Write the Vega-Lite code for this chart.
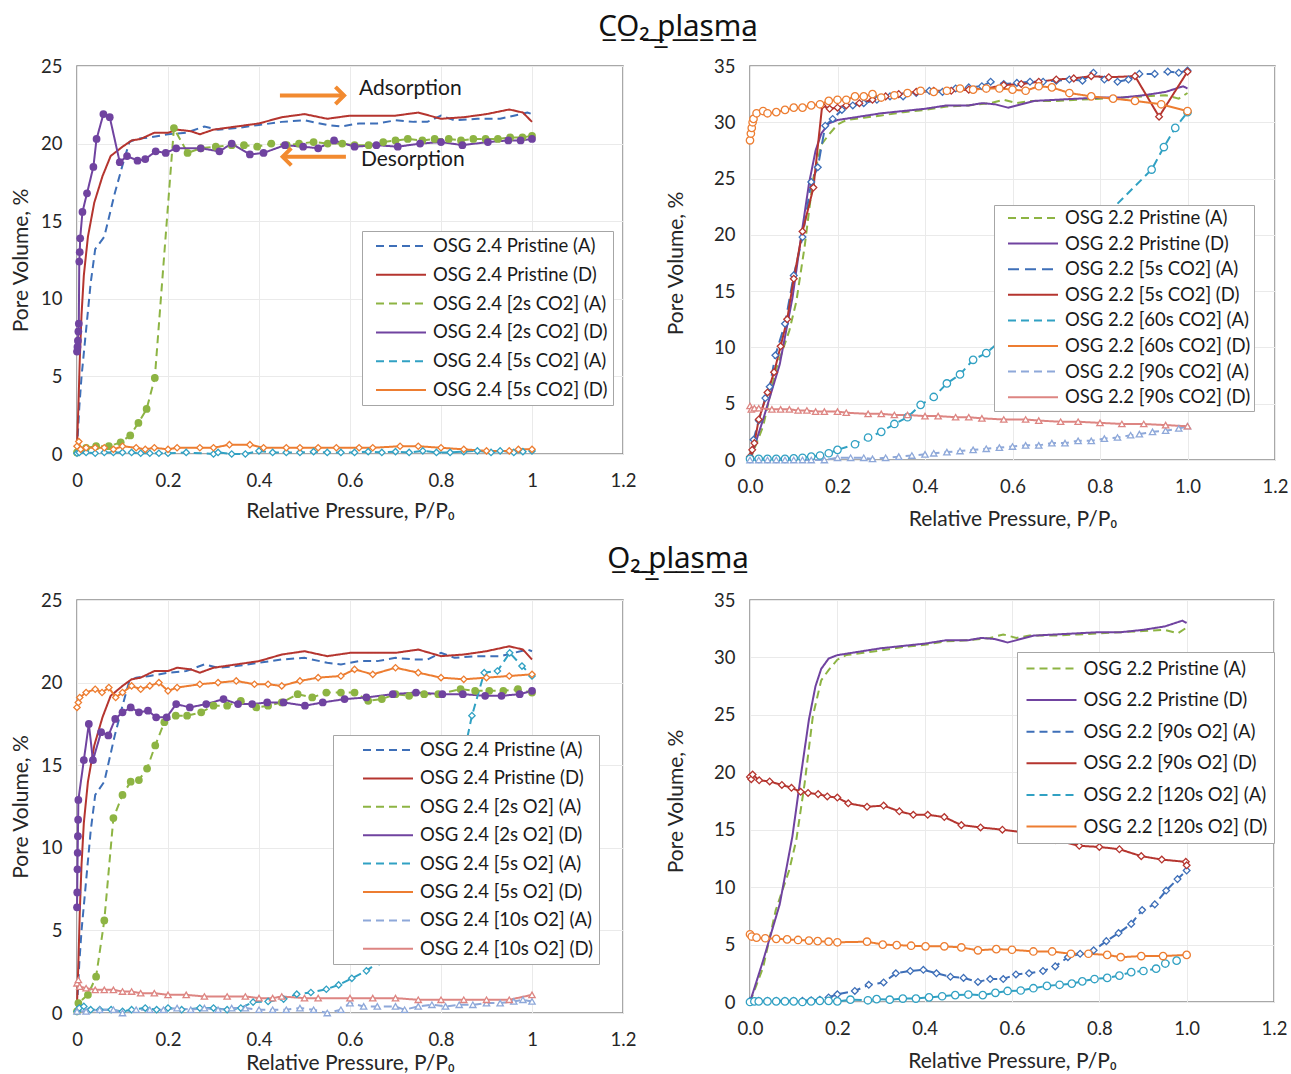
{
"$schema": "https://vega.github.io/schema/vega-lite/v6.json",
"background": "white",
"padding": {"left": 9, "top": 10, "right": 5, "bottom": 2},
"config": {
 "font": "Lato",
 "view": {"stroke": "#8C8C8C", "strokeWidth": 1.5},
 "axis": {"domain": false, "ticks": false, "grid": true, "gridColor": "#EAEAEA", "gridWidth": 1, "labelFlush": false, "labelFont": "Lato", "labelFontSize": 18.5, "labelColor": "#262626", "titleFont": "Lato", "titleFontSize": 21, "titleFontWeight": "normal", "titleColor": "#262626"},
 "axisX": {"labelPadding": 17},
 "axisY": {"labelPadding": 15},
 "legend": {"orient": "none", "symbolSize": 2500, "symbolStrokeWidth": 2, "labelFont": "Lato", "labelFontSize": 18.5, "labelColor": "#1a1a1a", "fillColor": "white", "strokeColor": "#A6A6A6", "padding": 5, "clipHeight": 20, "labelOffset": 6, "labelLimit": 400, "symbolOffset": 0}
},
"datasets": {
"p24": [
{"s":"OSG 2.4 Pristine (A)","x":0,"y":0.3},{"s":"OSG 2.4 Pristine (A)","x":0.005,"y":3},{"s":"OSG 2.4 Pristine (A)","x":0.01,"y":5},{"s":"OSG 2.4 Pristine (A)","x":0.02,"y":8},{"s":"OSG 2.4 Pristine (A)","x":0.03,"y":11},{"s":"OSG 2.4 Pristine (A)","x":0.04,"y":13.2},{"s":"OSG 2.4 Pristine (A)","x":0.06,"y":14.0},{"s":"OSG 2.4 Pristine (A)","x":0.083,"y":16.8},{"s":"OSG 2.4 Pristine (A)","x":0.1,"y":18.6},{"s":"OSG 2.4 Pristine (A)","x":0.115,"y":20.1},{"s":"OSG 2.4 Pristine (A)","x":0.13,"y":20.3},{"s":"OSG 2.4 Pristine (A)","x":0.16,"y":20.4},{"s":"OSG 2.4 Pristine (A)","x":0.2,"y":20.6},{"s":"OSG 2.4 Pristine (A)","x":0.24,"y":20.7},{"s":"OSG 2.4 Pristine (A)","x":0.28,"y":21.1},{"s":"OSG 2.4 Pristine (A)","x":0.31,"y":20.9},{"s":"OSG 2.4 Pristine (A)","x":0.35,"y":21.0},{"s":"OSG 2.4 Pristine (A)","x":0.4,"y":21.2},{"s":"OSG 2.4 Pristine (A)","x":0.45,"y":21.4},{"s":"OSG 2.4 Pristine (A)","x":0.5,"y":21.5},{"s":"OSG 2.4 Pristine (A)","x":0.55,"y":21.2},{"s":"OSG 2.4 Pristine (A)","x":0.58,"y":21.1},{"s":"OSG 2.4 Pristine (A)","x":0.62,"y":21.3},{"s":"OSG 2.4 Pristine (A)","x":0.66,"y":21.3},{"s":"OSG 2.4 Pristine (A)","x":0.7,"y":21.5},{"s":"OSG 2.4 Pristine (A)","x":0.74,"y":21.4},{"s":"OSG 2.4 Pristine (A)","x":0.77,"y":21.4},{"s":"OSG 2.4 Pristine (A)","x":0.8,"y":21.8},{"s":"OSG 2.4 Pristine (A)","x":0.83,"y":21.5},{"s":"OSG 2.4 Pristine (A)","x":0.88,"y":21.6},{"s":"OSG 2.4 Pristine (A)","x":0.93,"y":21.6},{"s":"OSG 2.4 Pristine (A)","x":0.96,"y":21.8},{"s":"OSG 2.4 Pristine (A)","x":0.99,"y":22.0},{"s":"OSG 2.4 Pristine (A)","x":1.0,"y":21.9},
{"s":"OSG 2.4 Pristine (D)","x":0,"y":0.5},{"s":"OSG 2.4 Pristine (D)","x":0.003,"y":3},{"s":"OSG 2.4 Pristine (D)","x":0.006,"y":6},{"s":"OSG 2.4 Pristine (D)","x":0.01,"y":9},{"s":"OSG 2.4 Pristine (D)","x":0.015,"y":11.5},{"s":"OSG 2.4 Pristine (D)","x":0.024,"y":14},{"s":"OSG 2.4 Pristine (D)","x":0.038,"y":16.2},{"s":"OSG 2.4 Pristine (D)","x":0.056,"y":17.9},{"s":"OSG 2.4 Pristine (D)","x":0.074,"y":19.2},{"s":"OSG 2.4 Pristine (D)","x":0.1,"y":19.8},{"s":"OSG 2.4 Pristine (D)","x":0.12,"y":20.2},{"s":"OSG 2.4 Pristine (D)","x":0.14,"y":20.3},{"s":"OSG 2.4 Pristine (D)","x":0.17,"y":20.7},{"s":"OSG 2.4 Pristine (D)","x":0.2,"y":20.7},{"s":"OSG 2.4 Pristine (D)","x":0.22,"y":20.9},{"s":"OSG 2.4 Pristine (D)","x":0.25,"y":20.8},{"s":"OSG 2.4 Pristine (D)","x":0.27,"y":20.6},{"s":"OSG 2.4 Pristine (D)","x":0.3,"y":20.9},{"s":"OSG 2.4 Pristine (D)","x":0.35,"y":21.1},{"s":"OSG 2.4 Pristine (D)","x":0.4,"y":21.3},{"s":"OSG 2.4 Pristine (D)","x":0.45,"y":21.7},{"s":"OSG 2.4 Pristine (D)","x":0.5,"y":21.9},{"s":"OSG 2.4 Pristine (D)","x":0.55,"y":21.6},{"s":"OSG 2.4 Pristine (D)","x":0.6,"y":21.8},{"s":"OSG 2.4 Pristine (D)","x":0.65,"y":21.8},{"s":"OSG 2.4 Pristine (D)","x":0.7,"y":21.8},{"s":"OSG 2.4 Pristine (D)","x":0.75,"y":22.0},{"s":"OSG 2.4 Pristine (D)","x":0.8,"y":21.6},{"s":"OSG 2.4 Pristine (D)","x":0.85,"y":21.7},{"s":"OSG 2.4 Pristine (D)","x":0.9,"y":21.9},{"s":"OSG 2.4 Pristine (D)","x":0.95,"y":22.2},{"s":"OSG 2.4 Pristine (D)","x":0.98,"y":22.0},{"s":"OSG 2.4 Pristine (D)","x":1.0,"y":21.4}
],
"p22": [
{"s":"OSG 2.2 Pristine (A)","x":0,"y":0},{"s":"OSG 2.2 Pristine (A)","x":0.03,"y":3},{"s":"OSG 2.2 Pristine (A)","x":0.059,"y":8},{"s":"OSG 2.2 Pristine (A)","x":0.09,"y":11.5},{"s":"OSG 2.2 Pristine (A)","x":0.106,"y":14.1},{"s":"OSG 2.2 Pristine (A)","x":0.125,"y":19},{"s":"OSG 2.2 Pristine (A)","x":0.144,"y":24.9},{"s":"OSG 2.2 Pristine (A)","x":0.163,"y":28.0},{"s":"OSG 2.2 Pristine (A)","x":0.18,"y":28.9},{"s":"OSG 2.2 Pristine (A)","x":0.2,"y":29.8},{"s":"OSG 2.2 Pristine (A)","x":0.22,"y":30.2},{"s":"OSG 2.2 Pristine (A)","x":0.26,"y":30.4},{"s":"OSG 2.2 Pristine (A)","x":0.3,"y":30.6},{"s":"OSG 2.2 Pristine (A)","x":0.35,"y":30.9},{"s":"OSG 2.2 Pristine (A)","x":0.4,"y":31.1},{"s":"OSG 2.2 Pristine (A)","x":0.45,"y":31.4},{"s":"OSG 2.2 Pristine (A)","x":0.5,"y":31.5},{"s":"OSG 2.2 Pristine (A)","x":0.55,"y":31.7},{"s":"OSG 2.2 Pristine (A)","x":0.58,"y":32.0},{"s":"OSG 2.2 Pristine (A)","x":0.61,"y":31.7},{"s":"OSG 2.2 Pristine (A)","x":0.64,"y":31.9},{"s":"OSG 2.2 Pristine (A)","x":0.7,"y":31.9},{"s":"OSG 2.2 Pristine (A)","x":0.75,"y":32.0},{"s":"OSG 2.2 Pristine (A)","x":0.8,"y":32.1},{"s":"OSG 2.2 Pristine (A)","x":0.85,"y":32.2},{"s":"OSG 2.2 Pristine (A)","x":0.9,"y":32.3},{"s":"OSG 2.2 Pristine (A)","x":0.95,"y":32.4},{"s":"OSG 2.2 Pristine (A)","x":0.98,"y":32.1},{"s":"OSG 2.2 Pristine (A)","x":1.0,"y":32.6},
{"s":"OSG 2.2 Pristine (D)","x":0,"y":0},{"s":"OSG 2.2 Pristine (D)","x":0.03,"y":3.6},{"s":"OSG 2.2 Pristine (D)","x":0.068,"y":8.5},{"s":"OSG 2.2 Pristine (D)","x":0.097,"y":14.4},{"s":"OSG 2.2 Pristine (D)","x":0.116,"y":19.6},{"s":"OSG 2.2 Pristine (D)","x":0.135,"y":24.6},{"s":"OSG 2.2 Pristine (D)","x":0.15,"y":27.5},{"s":"OSG 2.2 Pristine (D)","x":0.163,"y":29.0},{"s":"OSG 2.2 Pristine (D)","x":0.18,"y":29.9},{"s":"OSG 2.2 Pristine (D)","x":0.2,"y":30.2},{"s":"OSG 2.2 Pristine (D)","x":0.25,"y":30.5},{"s":"OSG 2.2 Pristine (D)","x":0.3,"y":30.8},{"s":"OSG 2.2 Pristine (D)","x":0.35,"y":31.0},{"s":"OSG 2.2 Pristine (D)","x":0.4,"y":31.2},{"s":"OSG 2.2 Pristine (D)","x":0.45,"y":31.5},{"s":"OSG 2.2 Pristine (D)","x":0.5,"y":31.5},{"s":"OSG 2.2 Pristine (D)","x":0.53,"y":31.7},{"s":"OSG 2.2 Pristine (D)","x":0.56,"y":31.6},{"s":"OSG 2.2 Pristine (D)","x":0.59,"y":31.3},{"s":"OSG 2.2 Pristine (D)","x":0.62,"y":31.6},{"s":"OSG 2.2 Pristine (D)","x":0.65,"y":31.9},{"s":"OSG 2.2 Pristine (D)","x":0.7,"y":32.0},{"s":"OSG 2.2 Pristine (D)","x":0.75,"y":32.1},{"s":"OSG 2.2 Pristine (D)","x":0.8,"y":32.2},{"s":"OSG 2.2 Pristine (D)","x":0.85,"y":32.2},{"s":"OSG 2.2 Pristine (D)","x":0.9,"y":32.4},{"s":"OSG 2.2 Pristine (D)","x":0.95,"y":32.7},{"s":"OSG 2.2 Pristine (D)","x":0.99,"y":33.2},{"s":"OSG 2.2 Pristine (D)","x":1.0,"y":33.0}
],
"tl": [
{"s":"OSG 2.4 [2s CO2] (A)","x":0,"y":0.1},{"s":"OSG 2.4 [2s CO2] (A)","x":0.005,"y":0.3},{"s":"OSG 2.4 [2s CO2] (A)","x":0.02,"y":0.4},{"s":"OSG 2.4 [2s CO2] (A)","x":0.042,"y":0.5},{"s":"OSG 2.4 [2s CO2] (A)","x":0.07,"y":0.5},{"s":"OSG 2.4 [2s CO2] (A)","x":0.096,"y":0.75},{"s":"OSG 2.4 [2s CO2] (A)","x":0.117,"y":1.2},{"s":"OSG 2.4 [2s CO2] (A)","x":0.135,"y":2.0},{"s":"OSG 2.4 [2s CO2] (A)","x":0.153,"y":2.9},{"s":"OSG 2.4 [2s CO2] (A)","x":0.171,"y":4.9},{"s":"OSG 2.4 [2s CO2] (A)","x":0.213,"y":21.0},{"s":"OSG 2.4 [2s CO2] (A)","x":0.243,"y":19.4},{"s":"OSG 2.4 [2s CO2] (A)","x":0.272,"y":19.7},{"s":"OSG 2.4 [2s CO2] (A)","x":0.305,"y":19.8},{"s":"OSG 2.4 [2s CO2] (A)","x":0.34,"y":19.9},{"s":"OSG 2.4 [2s CO2] (A)","x":0.367,"y":19.9},{"s":"OSG 2.4 [2s CO2] (A)","x":0.396,"y":19.8},{"s":"OSG 2.4 [2s CO2] (A)","x":0.427,"y":20.0},{"s":"OSG 2.4 [2s CO2] (A)","x":0.461,"y":19.9},{"s":"OSG 2.4 [2s CO2] (A)","x":0.488,"y":20.0},{"s":"OSG 2.4 [2s CO2] (A)","x":0.52,"y":20.1},{"s":"OSG 2.4 [2s CO2] (A)","x":0.551,"y":20.0},{"s":"OSG 2.4 [2s CO2] (A)","x":0.583,"y":20.0},{"s":"OSG 2.4 [2s CO2] (A)","x":0.61,"y":19.9},{"s":"OSG 2.4 [2s CO2] (A)","x":0.641,"y":19.9},{"s":"OSG 2.4 [2s CO2] (A)","x":0.673,"y":20.1},{"s":"OSG 2.4 [2s CO2] (A)","x":0.7,"y":20.2},{"s":"OSG 2.4 [2s CO2] (A)","x":0.727,"y":20.3},{"s":"OSG 2.4 [2s CO2] (A)","x":0.759,"y":20.2},{"s":"OSG 2.4 [2s CO2] (A)","x":0.786,"y":20.3},{"s":"OSG 2.4 [2s CO2] (A)","x":0.817,"y":20.3},{"s":"OSG 2.4 [2s CO2] (A)","x":0.844,"y":20.2},{"s":"OSG 2.4 [2s CO2] (A)","x":0.871,"y":20.3},{"s":"OSG 2.4 [2s CO2] (A)","x":0.898,"y":20.3},{"s":"OSG 2.4 [2s CO2] (A)","x":0.925,"y":20.3},{"s":"OSG 2.4 [2s CO2] (A)","x":0.952,"y":20.4},{"s":"OSG 2.4 [2s CO2] (A)","x":0.979,"y":20.4},{"s":"OSG 2.4 [2s CO2] (A)","x":1.0,"y":20.5},
{"s":"OSG 2.4 [2s CO2] (D)","x":0,"y":6.6},{"s":"OSG 2.4 [2s CO2] (D)","x":0.001,"y":6.9},{"s":"OSG 2.4 [2s CO2] (D)","x":0.002,"y":7.3},{"s":"OSG 2.4 [2s CO2] (D)","x":0.003,"y":7.9},{"s":"OSG 2.4 [2s CO2] (D)","x":0.004,"y":8.4},{"s":"OSG 2.4 [2s CO2] (D)","x":0.005,"y":12.4},{"s":"OSG 2.4 [2s CO2] (D)","x":0.006,"y":13.0},{"s":"OSG 2.4 [2s CO2] (D)","x":0.007,"y":13.9},{"s":"OSG 2.4 [2s CO2] (D)","x":0.012,"y":15.6},{"s":"OSG 2.4 [2s CO2] (D)","x":0.022,"y":16.8},{"s":"OSG 2.4 [2s CO2] (D)","x":0.036,"y":18.5},{"s":"OSG 2.4 [2s CO2] (D)","x":0.043,"y":20.3},{"s":"OSG 2.4 [2s CO2] (D)","x":0.058,"y":21.9},{"s":"OSG 2.4 [2s CO2] (D)","x":0.072,"y":21.7},{"s":"OSG 2.4 [2s CO2] (D)","x":0.094,"y":18.8},{"s":"OSG 2.4 [2s CO2] (D)","x":0.11,"y":19.2},{"s":"OSG 2.4 [2s CO2] (D)","x":0.133,"y":18.9},{"s":"OSG 2.4 [2s CO2] (D)","x":0.15,"y":19.0},{"s":"OSG 2.4 [2s CO2] (D)","x":0.173,"y":19.5},{"s":"OSG 2.4 [2s CO2] (D)","x":0.195,"y":19.4},{"s":"OSG 2.4 [2s CO2] (D)","x":0.218,"y":19.7},{"s":"OSG 2.4 [2s CO2] (D)","x":0.272,"y":19.7},{"s":"OSG 2.4 [2s CO2] (D)","x":0.313,"y":19.5},{"s":"OSG 2.4 [2s CO2] (D)","x":0.34,"y":20.0},{"s":"OSG 2.4 [2s CO2] (D)","x":0.38,"y":19.3},{"s":"OSG 2.4 [2s CO2] (D)","x":0.41,"y":19.4},{"s":"OSG 2.4 [2s CO2] (D)","x":0.457,"y":19.9},{"s":"OSG 2.4 [2s CO2] (D)","x":0.497,"y":19.8},{"s":"OSG 2.4 [2s CO2] (D)","x":0.53,"y":19.7},{"s":"OSG 2.4 [2s CO2] (D)","x":0.565,"y":20.2},{"s":"OSG 2.4 [2s CO2] (D)","x":0.61,"y":19.8},{"s":"OSG 2.4 [2s CO2] (D)","x":0.658,"y":19.9},{"s":"OSG 2.4 [2s CO2] (D)","x":0.705,"y":19.8},{"s":"OSG 2.4 [2s CO2] (D)","x":0.754,"y":20.0},{"s":"OSG 2.4 [2s CO2] (D)","x":0.8,"y":20.1},{"s":"OSG 2.4 [2s CO2] (D)","x":0.847,"y":19.9},{"s":"OSG 2.4 [2s CO2] (D)","x":0.903,"y":20.1},{"s":"OSG 2.4 [2s CO2] (D)","x":0.948,"y":20.2},{"s":"OSG 2.4 [2s CO2] (D)","x":0.975,"y":20.2},{"s":"OSG 2.4 [2s CO2] (D)","x":1.0,"y":20.3},
{"s":"OSG 2.4 [5s CO2] (A)","x":0,"y":0.05},{"s":"OSG 2.4 [5s CO2] (A)","x":0.005,"y":0.1},{"s":"OSG 2.4 [5s CO2] (A)","x":0.02,"y":0.1},{"s":"OSG 2.4 [5s CO2] (A)","x":0.04,"y":0.05},{"s":"OSG 2.4 [5s CO2] (A)","x":0.06,"y":0.1},{"s":"OSG 2.4 [5s CO2] (A)","x":0.08,"y":0.1},{"s":"OSG 2.4 [5s CO2] (A)","x":0.1,"y":0.1},{"s":"OSG 2.4 [5s CO2] (A)","x":0.12,"y":0.1},{"s":"OSG 2.4 [5s CO2] (A)","x":0.14,"y":0.05},{"s":"OSG 2.4 [5s CO2] (A)","x":0.16,"y":0.05},{"s":"OSG 2.4 [5s CO2] (A)","x":0.18,"y":0.05},{"s":"OSG 2.4 [5s CO2] (A)","x":0.2,"y":0.05},{"s":"OSG 2.4 [5s CO2] (A)","x":0.24,"y":0.1},{"s":"OSG 2.4 [5s CO2] (A)","x":0.3,"y":0.0},{"s":"OSG 2.4 [5s CO2] (A)","x":0.31,"y":0.1},{"s":"OSG 2.4 [5s CO2] (A)","x":0.34,"y":0.0},{"s":"OSG 2.4 [5s CO2] (A)","x":0.37,"y":0.0},{"s":"OSG 2.4 [5s CO2] (A)","x":0.4,"y":0.2},{"s":"OSG 2.4 [5s CO2] (A)","x":0.43,"y":0.1},{"s":"OSG 2.4 [5s CO2] (A)","x":0.46,"y":0.1},{"s":"OSG 2.4 [5s CO2] (A)","x":0.49,"y":0.1},{"s":"OSG 2.4 [5s CO2] (A)","x":0.52,"y":0.15},{"s":"OSG 2.4 [5s CO2] (A)","x":0.55,"y":0.1},{"s":"OSG 2.4 [5s CO2] (A)","x":0.58,"y":0.1},{"s":"OSG 2.4 [5s CO2] (A)","x":0.61,"y":0.1},{"s":"OSG 2.4 [5s CO2] (A)","x":0.64,"y":0.15},{"s":"OSG 2.4 [5s CO2] (A)","x":0.67,"y":0.1},{"s":"OSG 2.4 [5s CO2] (A)","x":0.7,"y":0.15},{"s":"OSG 2.4 [5s CO2] (A)","x":0.73,"y":0.1},{"s":"OSG 2.4 [5s CO2] (A)","x":0.76,"y":0.2},{"s":"OSG 2.4 [5s CO2] (A)","x":0.79,"y":0.1},{"s":"OSG 2.4 [5s CO2] (A)","x":0.82,"y":0.1},{"s":"OSG 2.4 [5s CO2] (A)","x":0.85,"y":0.15},{"s":"OSG 2.4 [5s CO2] (A)","x":0.88,"y":0.2},{"s":"OSG 2.4 [5s CO2] (A)","x":0.91,"y":0.1},{"s":"OSG 2.4 [5s CO2] (A)","x":0.93,"y":0.2},{"s":"OSG 2.4 [5s CO2] (A)","x":0.96,"y":0.1},{"s":"OSG 2.4 [5s CO2] (A)","x":0.98,"y":0.15},{"s":"OSG 2.4 [5s CO2] (A)","x":1.0,"y":0.2},
{"s":"OSG 2.4 [5s CO2] (D)","x":0,"y":0.5},{"s":"OSG 2.4 [5s CO2] (D)","x":0.004,"y":0.8},{"s":"OSG 2.4 [5s CO2] (D)","x":0.008,"y":0.3},{"s":"OSG 2.4 [5s CO2] (D)","x":0.02,"y":0.4},{"s":"OSG 2.4 [5s CO2] (D)","x":0.04,"y":0.4},{"s":"OSG 2.4 [5s CO2] (D)","x":0.06,"y":0.4},{"s":"OSG 2.4 [5s CO2] (D)","x":0.08,"y":0.3},{"s":"OSG 2.4 [5s CO2] (D)","x":0.1,"y":0.5},{"s":"OSG 2.4 [5s CO2] (D)","x":0.13,"y":0.4},{"s":"OSG 2.4 [5s CO2] (D)","x":0.15,"y":0.3},{"s":"OSG 2.4 [5s CO2] (D)","x":0.17,"y":0.4},{"s":"OSG 2.4 [5s CO2] (D)","x":0.2,"y":0.3},{"s":"OSG 2.4 [5s CO2] (D)","x":0.22,"y":0.4},{"s":"OSG 2.4 [5s CO2] (D)","x":0.27,"y":0.4},{"s":"OSG 2.4 [5s CO2] (D)","x":0.3,"y":0.4},{"s":"OSG 2.4 [5s CO2] (D)","x":0.335,"y":0.6},{"s":"OSG 2.4 [5s CO2] (D)","x":0.38,"y":0.6},{"s":"OSG 2.4 [5s CO2] (D)","x":0.41,"y":0.4},{"s":"OSG 2.4 [5s CO2] (D)","x":0.46,"y":0.4},{"s":"OSG 2.4 [5s CO2] (D)","x":0.49,"y":0.4},{"s":"OSG 2.4 [5s CO2] (D)","x":0.53,"y":0.4},{"s":"OSG 2.4 [5s CO2] (D)","x":0.57,"y":0.4},{"s":"OSG 2.4 [5s CO2] (D)","x":0.62,"y":0.4},{"s":"OSG 2.4 [5s CO2] (D)","x":0.65,"y":0.4},{"s":"OSG 2.4 [5s CO2] (D)","x":0.71,"y":0.5},{"s":"OSG 2.4 [5s CO2] (D)","x":0.75,"y":0.5},{"s":"OSG 2.4 [5s CO2] (D)","x":0.8,"y":0.4},{"s":"OSG 2.4 [5s CO2] (D)","x":0.85,"y":0.3},{"s":"OSG 2.4 [5s CO2] (D)","x":0.9,"y":0.2},{"s":"OSG 2.4 [5s CO2] (D)","x":0.95,"y":0.2},{"s":"OSG 2.4 [5s CO2] (D)","x":0.97,"y":0.3},{"s":"OSG 2.4 [5s CO2] (D)","x":1.0,"y":0.3}
],
"tr": [
{"s":"OSG 2.2 [5s CO2] (A)","x":0,"y":0.2},{"s":"OSG 2.2 [5s CO2] (A)","x":0.008,"y":1.8},{"s":"OSG 2.2 [5s CO2] (A)","x":0.02,"y":3.5},{"s":"OSG 2.2 [5s CO2] (A)","x":0.035,"y":5.5},{"s":"OSG 2.2 [5s CO2] (A)","x":0.045,"y":6.5},{"s":"OSG 2.2 [5s CO2] (A)","x":0.058,"y":9.3},{"s":"OSG 2.2 [5s CO2] (A)","x":0.08,"y":12.1},{"s":"OSG 2.2 [5s CO2] (A)","x":0.1,"y":16.4},{"s":"OSG 2.2 [5s CO2] (A)","x":0.12,"y":19.8},{"s":"OSG 2.2 [5s CO2] (A)","x":0.14,"y":24.7},{"s":"OSG 2.2 [5s CO2] (A)","x":0.155,"y":26.0},{"s":"OSG 2.2 [5s CO2] (A)","x":0.172,"y":29.7},{"s":"OSG 2.2 [5s CO2] (A)","x":0.189,"y":30.3},{"s":"OSG 2.2 [5s CO2] (A)","x":0.21,"y":31.1},{"s":"OSG 2.2 [5s CO2] (A)","x":0.235,"y":31.5},{"s":"OSG 2.2 [5s CO2] (A)","x":0.26,"y":31.7},{"s":"OSG 2.2 [5s CO2] (A)","x":0.29,"y":32.0},{"s":"OSG 2.2 [5s CO2] (A)","x":0.32,"y":32.3},{"s":"OSG 2.2 [5s CO2] (A)","x":0.35,"y":32.3},{"s":"OSG 2.2 [5s CO2] (A)","x":0.38,"y":32.6},{"s":"OSG 2.2 [5s CO2] (A)","x":0.41,"y":32.8},{"s":"OSG 2.2 [5s CO2] (A)","x":0.44,"y":32.7},{"s":"OSG 2.2 [5s CO2] (A)","x":0.47,"y":33.0},{"s":"OSG 2.2 [5s CO2] (A)","x":0.5,"y":33.1},{"s":"OSG 2.2 [5s CO2] (A)","x":0.53,"y":33.2},{"s":"OSG 2.2 [5s CO2] (A)","x":0.55,"y":33.6},{"s":"OSG 2.2 [5s CO2] (A)","x":0.58,"y":33.4},{"s":"OSG 2.2 [5s CO2] (A)","x":0.61,"y":33.5},{"s":"OSG 2.2 [5s CO2] (A)","x":0.64,"y":33.6},{"s":"OSG 2.2 [5s CO2] (A)","x":0.67,"y":33.6},{"s":"OSG 2.2 [5s CO2] (A)","x":0.7,"y":33.7},{"s":"OSG 2.2 [5s CO2] (A)","x":0.73,"y":33.8},{"s":"OSG 2.2 [5s CO2] (A)","x":0.76,"y":33.7},{"s":"OSG 2.2 [5s CO2] (A)","x":0.785,"y":34.4},{"s":"OSG 2.2 [5s CO2] (A)","x":0.81,"y":33.8},{"s":"OSG 2.2 [5s CO2] (A)","x":0.84,"y":33.6},{"s":"OSG 2.2 [5s CO2] (A)","x":0.865,"y":33.8},{"s":"OSG 2.2 [5s CO2] (A)","x":0.89,"y":34.3},{"s":"OSG 2.2 [5s CO2] (A)","x":0.925,"y":34.3},{"s":"OSG 2.2 [5s CO2] (A)","x":0.955,"y":34.5},{"s":"OSG 2.2 [5s CO2] (A)","x":0.98,"y":34.4},{"s":"OSG 2.2 [5s CO2] (A)","x":1.0,"y":34.6},
{"s":"OSG 2.2 [5s CO2] (D)","x":0,"y":0.3},{"s":"OSG 2.2 [5s CO2] (D)","x":0.005,"y":0.9},{"s":"OSG 2.2 [5s CO2] (D)","x":0.01,"y":1.5},{"s":"OSG 2.2 [5s CO2] (D)","x":0.02,"y":3.6},{"s":"OSG 2.2 [5s CO2] (D)","x":0.04,"y":6.0},{"s":"OSG 2.2 [5s CO2] (D)","x":0.055,"y":7.8},{"s":"OSG 2.2 [5s CO2] (D)","x":0.07,"y":10.1},{"s":"OSG 2.2 [5s CO2] (D)","x":0.085,"y":12.5},{"s":"OSG 2.2 [5s CO2] (D)","x":0.1,"y":16.1},{"s":"OSG 2.2 [5s CO2] (D)","x":0.12,"y":20.3},{"s":"OSG 2.2 [5s CO2] (D)","x":0.145,"y":24.2},{"s":"OSG 2.2 [5s CO2] (D)","x":0.165,"y":31.5},{"s":"OSG 2.2 [5s CO2] (D)","x":0.182,"y":31.2},{"s":"OSG 2.2 [5s CO2] (D)","x":0.2,"y":31.3},{"s":"OSG 2.2 [5s CO2] (D)","x":0.22,"y":31.5},{"s":"OSG 2.2 [5s CO2] (D)","x":0.25,"y":31.7},{"s":"OSG 2.2 [5s CO2] (D)","x":0.28,"y":32.0},{"s":"OSG 2.2 [5s CO2] (D)","x":0.31,"y":32.3},{"s":"OSG 2.2 [5s CO2] (D)","x":0.34,"y":32.5},{"s":"OSG 2.2 [5s CO2] (D)","x":0.38,"y":32.7},{"s":"OSG 2.2 [5s CO2] (D)","x":0.42,"y":32.8},{"s":"OSG 2.2 [5s CO2] (D)","x":0.46,"y":32.8},{"s":"OSG 2.2 [5s CO2] (D)","x":0.5,"y":32.9},{"s":"OSG 2.2 [5s CO2] (D)","x":0.54,"y":33.0},{"s":"OSG 2.2 [5s CO2] (D)","x":0.58,"y":33.3},{"s":"OSG 2.2 [5s CO2] (D)","x":0.62,"y":33.4},{"s":"OSG 2.2 [5s CO2] (D)","x":0.66,"y":33.6},{"s":"OSG 2.2 [5s CO2] (D)","x":0.7,"y":33.8},{"s":"OSG 2.2 [5s CO2] (D)","x":0.74,"y":33.9},{"s":"OSG 2.2 [5s CO2] (D)","x":0.78,"y":34.1},{"s":"OSG 2.2 [5s CO2] (D)","x":0.82,"y":34.0},{"s":"OSG 2.2 [5s CO2] (D)","x":0.88,"y":34.1},{"s":"OSG 2.2 [5s CO2] (D)","x":0.935,"y":30.5},{"s":"OSG 2.2 [5s CO2] (D)","x":1.0,"y":34.5},
{"s":"OSG 2.2 [60s CO2] (A)","x":0,"y":0.1},{"s":"OSG 2.2 [60s CO2] (A)","x":0.02,"y":0.1},{"s":"OSG 2.2 [60s CO2] (A)","x":0.04,"y":0.1},{"s":"OSG 2.2 [60s CO2] (A)","x":0.06,"y":0.1},{"s":"OSG 2.2 [60s CO2] (A)","x":0.08,"y":0.1},{"s":"OSG 2.2 [60s CO2] (A)","x":0.1,"y":0.15},{"s":"OSG 2.2 [60s CO2] (A)","x":0.12,"y":0.2},{"s":"OSG 2.2 [60s CO2] (A)","x":0.14,"y":0.3},{"s":"OSG 2.2 [60s CO2] (A)","x":0.16,"y":0.4},{"s":"OSG 2.2 [60s CO2] (A)","x":0.18,"y":0.6},{"s":"OSG 2.2 [60s CO2] (A)","x":0.2,"y":0.9},{"s":"OSG 2.2 [60s CO2] (A)","x":0.24,"y":1.4},{"s":"OSG 2.2 [60s CO2] (A)","x":0.27,"y":2.0},{"s":"OSG 2.2 [60s CO2] (A)","x":0.3,"y":2.5},{"s":"OSG 2.2 [60s CO2] (A)","x":0.33,"y":3.2},{"s":"OSG 2.2 [60s CO2] (A)","x":0.36,"y":3.8},{"s":"OSG 2.2 [60s CO2] (A)","x":0.39,"y":4.9},{"s":"OSG 2.2 [60s CO2] (A)","x":0.42,"y":5.6},{"s":"OSG 2.2 [60s CO2] (A)","x":0.45,"y":6.8},{"s":"OSG 2.2 [60s CO2] (A)","x":0.48,"y":7.6},{"s":"OSG 2.2 [60s CO2] (A)","x":0.51,"y":8.9},{"s":"OSG 2.2 [60s CO2] (A)","x":0.54,"y":9.5},{"s":"OSG 2.2 [60s CO2] (A)","x":0.57,"y":10.5},{"s":"OSG 2.2 [60s CO2] (A)","x":0.62,"y":12.5},{"s":"OSG 2.2 [60s CO2] (A)","x":0.67,"y":14.5},{"s":"OSG 2.2 [60s CO2] (A)","x":0.72,"y":17.0},{"s":"OSG 2.2 [60s CO2] (A)","x":0.77,"y":19.5},{"s":"OSG 2.2 [60s CO2] (A)","x":0.82,"y":22.0},{"s":"OSG 2.2 [60s CO2] (A)","x":0.918,"y":25.8},{"s":"OSG 2.2 [60s CO2] (A)","x":0.946,"y":27.8},{"s":"OSG 2.2 [60s CO2] (A)","x":0.972,"y":29.5},{"s":"OSG 2.2 [60s CO2] (A)","x":1.0,"y":30.9},
{"s":"OSG 2.2 [60s CO2] (D)","x":0,"y":28.4},{"s":"OSG 2.2 [60s CO2] (D)","x":0.002,"y":29.0},{"s":"OSG 2.2 [60s CO2] (D)","x":0.004,"y":29.5},{"s":"OSG 2.2 [60s CO2] (D)","x":0.006,"y":30.0},{"s":"OSG 2.2 [60s CO2] (D)","x":0.008,"y":30.3},{"s":"OSG 2.2 [60s CO2] (D)","x":0.015,"y":30.8},{"s":"OSG 2.2 [60s CO2] (D)","x":0.03,"y":31.0},{"s":"OSG 2.2 [60s CO2] (D)","x":0.04,"y":30.8},{"s":"OSG 2.2 [60s CO2] (D)","x":0.06,"y":30.9},{"s":"OSG 2.2 [60s CO2] (D)","x":0.08,"y":31.1},{"s":"OSG 2.2 [60s CO2] (D)","x":0.1,"y":31.3},{"s":"OSG 2.2 [60s CO2] (D)","x":0.12,"y":31.3},{"s":"OSG 2.2 [60s CO2] (D)","x":0.14,"y":31.5},{"s":"OSG 2.2 [60s CO2] (D)","x":0.16,"y":31.6},{"s":"OSG 2.2 [60s CO2] (D)","x":0.18,"y":31.9},{"s":"OSG 2.2 [60s CO2] (D)","x":0.2,"y":32.0},{"s":"OSG 2.2 [60s CO2] (D)","x":0.22,"y":32.0},{"s":"OSG 2.2 [60s CO2] (D)","x":0.24,"y":32.3},{"s":"OSG 2.2 [60s CO2] (D)","x":0.26,"y":32.3},{"s":"OSG 2.2 [60s CO2] (D)","x":0.28,"y":32.5},{"s":"OSG 2.2 [60s CO2] (D)","x":0.3,"y":32.2},{"s":"OSG 2.2 [60s CO2] (D)","x":0.33,"y":32.4},{"s":"OSG 2.2 [60s CO2] (D)","x":0.36,"y":32.6},{"s":"OSG 2.2 [60s CO2] (D)","x":0.39,"y":32.8},{"s":"OSG 2.2 [60s CO2] (D)","x":0.42,"y":32.7},{"s":"OSG 2.2 [60s CO2] (D)","x":0.45,"y":32.8},{"s":"OSG 2.2 [60s CO2] (D)","x":0.48,"y":33.0},{"s":"OSG 2.2 [60s CO2] (D)","x":0.51,"y":32.9},{"s":"OSG 2.2 [60s CO2] (D)","x":0.54,"y":33.0},{"s":"OSG 2.2 [60s CO2] (D)","x":0.57,"y":33.0},{"s":"OSG 2.2 [60s CO2] (D)","x":0.6,"y":32.9},{"s":"OSG 2.2 [60s CO2] (D)","x":0.63,"y":32.8},{"s":"OSG 2.2 [60s CO2] (D)","x":0.66,"y":33.2},{"s":"OSG 2.2 [60s CO2] (D)","x":0.69,"y":33.1},{"s":"OSG 2.2 [60s CO2] (D)","x":0.73,"y":32.6},{"s":"OSG 2.2 [60s CO2] (D)","x":0.78,"y":32.3},{"s":"OSG 2.2 [60s CO2] (D)","x":0.83,"y":32.1},{"s":"OSG 2.2 [60s CO2] (D)","x":0.88,"y":31.9},{"s":"OSG 2.2 [60s CO2] (D)","x":0.94,"y":31.6},{"s":"OSG 2.2 [60s CO2] (D)","x":1.0,"y":31.0},
{"s":"OSG 2.2 [90s CO2] (A)","x":0,"y":0.0},{"s":"OSG 2.2 [90s CO2] (A)","x":0.02,"y":0.0},{"s":"OSG 2.2 [90s CO2] (A)","x":0.04,"y":0.0},{"s":"OSG 2.2 [90s CO2] (A)","x":0.06,"y":0.0},{"s":"OSG 2.2 [90s CO2] (A)","x":0.08,"y":0.0},{"s":"OSG 2.2 [90s CO2] (A)","x":0.1,"y":0.0},{"s":"OSG 2.2 [90s CO2] (A)","x":0.12,"y":0.0},{"s":"OSG 2.2 [90s CO2] (A)","x":0.14,"y":0.0},{"s":"OSG 2.2 [90s CO2] (A)","x":0.17,"y":0.0},{"s":"OSG 2.2 [90s CO2] (A)","x":0.2,"y":0.2},{"s":"OSG 2.2 [90s CO2] (A)","x":0.23,"y":0.2},{"s":"OSG 2.2 [90s CO2] (A)","x":0.26,"y":0.2},{"s":"OSG 2.2 [90s CO2] (A)","x":0.28,"y":0.1},{"s":"OSG 2.2 [90s CO2] (A)","x":0.31,"y":0.2},{"s":"OSG 2.2 [90s CO2] (A)","x":0.34,"y":0.3},{"s":"OSG 2.2 [90s CO2] (A)","x":0.37,"y":0.4},{"s":"OSG 2.2 [90s CO2] (A)","x":0.4,"y":0.5},{"s":"OSG 2.2 [90s CO2] (A)","x":0.42,"y":0.6},{"s":"OSG 2.2 [90s CO2] (A)","x":0.45,"y":0.7},{"s":"OSG 2.2 [90s CO2] (A)","x":0.48,"y":0.8},{"s":"OSG 2.2 [90s CO2] (A)","x":0.51,"y":0.9},{"s":"OSG 2.2 [90s CO2] (A)","x":0.54,"y":1.0},{"s":"OSG 2.2 [90s CO2] (A)","x":0.57,"y":1.1},{"s":"OSG 2.2 [90s CO2] (A)","x":0.6,"y":1.2},{"s":"OSG 2.2 [90s CO2] (A)","x":0.63,"y":1.3},{"s":"OSG 2.2 [90s CO2] (A)","x":0.66,"y":1.3},{"s":"OSG 2.2 [90s CO2] (A)","x":0.69,"y":1.5},{"s":"OSG 2.2 [90s CO2] (A)","x":0.72,"y":1.5},{"s":"OSG 2.2 [90s CO2] (A)","x":0.75,"y":1.7},{"s":"OSG 2.2 [90s CO2] (A)","x":0.78,"y":1.7},{"s":"OSG 2.2 [90s CO2] (A)","x":0.81,"y":1.9},{"s":"OSG 2.2 [90s CO2] (A)","x":0.84,"y":2.0},{"s":"OSG 2.2 [90s CO2] (A)","x":0.87,"y":2.2},{"s":"OSG 2.2 [90s CO2] (A)","x":0.89,"y":2.3},{"s":"OSG 2.2 [90s CO2] (A)","x":0.92,"y":2.5},{"s":"OSG 2.2 [90s CO2] (A)","x":0.95,"y":2.6},{"s":"OSG 2.2 [90s CO2] (A)","x":0.98,"y":2.8},{"s":"OSG 2.2 [90s CO2] (A)","x":1.0,"y":3.0},
{"s":"OSG 2.2 [90s CO2] (D)","x":0,"y":4.8},{"s":"OSG 2.2 [90s CO2] (D)","x":0.003,"y":4.5},{"s":"OSG 2.2 [90s CO2] (D)","x":0.01,"y":4.6},{"s":"OSG 2.2 [90s CO2] (D)","x":0.02,"y":4.6},{"s":"OSG 2.2 [90s CO2] (D)","x":0.05,"y":4.5},{"s":"OSG 2.2 [90s CO2] (D)","x":0.07,"y":4.5},{"s":"OSG 2.2 [90s CO2] (D)","x":0.09,"y":4.5},{"s":"OSG 2.2 [90s CO2] (D)","x":0.11,"y":4.4},{"s":"OSG 2.2 [90s CO2] (D)","x":0.13,"y":4.4},{"s":"OSG 2.2 [90s CO2] (D)","x":0.15,"y":4.3},{"s":"OSG 2.2 [90s CO2] (D)","x":0.17,"y":4.3},{"s":"OSG 2.2 [90s CO2] (D)","x":0.2,"y":4.3},{"s":"OSG 2.2 [90s CO2] (D)","x":0.22,"y":4.2},{"s":"OSG 2.2 [90s CO2] (D)","x":0.27,"y":4.1},{"s":"OSG 2.2 [90s CO2] (D)","x":0.3,"y":4.1},{"s":"OSG 2.2 [90s CO2] (D)","x":0.33,"y":4.0},{"s":"OSG 2.2 [90s CO2] (D)","x":0.36,"y":4.0},{"s":"OSG 2.2 [90s CO2] (D)","x":0.4,"y":3.9},{"s":"OSG 2.2 [90s CO2] (D)","x":0.43,"y":3.9},{"s":"OSG 2.2 [90s CO2] (D)","x":0.47,"y":3.8},{"s":"OSG 2.2 [90s CO2] (D)","x":0.5,"y":3.8},{"s":"OSG 2.2 [90s CO2] (D)","x":0.53,"y":3.7},{"s":"OSG 2.2 [90s CO2] (D)","x":0.58,"y":3.6},{"s":"OSG 2.2 [90s CO2] (D)","x":0.63,"y":3.6},{"s":"OSG 2.2 [90s CO2] (D)","x":0.66,"y":3.5},{"s":"OSG 2.2 [90s CO2] (D)","x":0.71,"y":3.4},{"s":"OSG 2.2 [90s CO2] (D)","x":0.75,"y":3.4},{"s":"OSG 2.2 [90s CO2] (D)","x":0.8,"y":3.3},{"s":"OSG 2.2 [90s CO2] (D)","x":0.85,"y":3.2},{"s":"OSG 2.2 [90s CO2] (D)","x":0.9,"y":3.2},{"s":"OSG 2.2 [90s CO2] (D)","x":0.95,"y":3.1},{"s":"OSG 2.2 [90s CO2] (D)","x":1.0,"y":3.0}
],
"bl": [
{"s":"OSG 2.4 [2s O2] (A)","x":0,"y":0.1},{"s":"OSG 2.4 [2s O2] (A)","x":0.003,"y":0.6},{"s":"OSG 2.4 [2s O2] (A)","x":0.024,"y":1.1},{"s":"OSG 2.4 [2s O2] (A)","x":0.042,"y":2.2},{"s":"OSG 2.4 [2s O2] (A)","x":0.06,"y":5.6},{"s":"OSG 2.4 [2s O2] (A)","x":0.08,"y":11.8},{"s":"OSG 2.4 [2s O2] (A)","x":0.1,"y":13.2},{"s":"OSG 2.4 [2s O2] (A)","x":0.118,"y":14.0},{"s":"OSG 2.4 [2s O2] (A)","x":0.136,"y":14.1},{"s":"OSG 2.4 [2s O2] (A)","x":0.154,"y":14.8},{"s":"OSG 2.4 [2s O2] (A)","x":0.172,"y":16.2},{"s":"OSG 2.4 [2s O2] (A)","x":0.192,"y":17.6},{"s":"OSG 2.4 [2s O2] (A)","x":0.217,"y":18.0},{"s":"OSG 2.4 [2s O2] (A)","x":0.242,"y":18.0},{"s":"OSG 2.4 [2s O2] (A)","x":0.273,"y":18.2},{"s":"OSG 2.4 [2s O2] (A)","x":0.3,"y":18.6},{"s":"OSG 2.4 [2s O2] (A)","x":0.33,"y":18.6},{"s":"OSG 2.4 [2s O2] (A)","x":0.36,"y":18.9},{"s":"OSG 2.4 [2s O2] (A)","x":0.394,"y":18.5},{"s":"OSG 2.4 [2s O2] (A)","x":0.42,"y":18.6},{"s":"OSG 2.4 [2s O2] (A)","x":0.45,"y":18.8},{"s":"OSG 2.4 [2s O2] (A)","x":0.485,"y":19.3},{"s":"OSG 2.4 [2s O2] (A)","x":0.517,"y":19.1},{"s":"OSG 2.4 [2s O2] (A)","x":0.548,"y":19.4},{"s":"OSG 2.4 [2s O2] (A)","x":0.58,"y":19.4},{"s":"OSG 2.4 [2s O2] (A)","x":0.61,"y":19.4},{"s":"OSG 2.4 [2s O2] (A)","x":0.64,"y":18.9},{"s":"OSG 2.4 [2s O2] (A)","x":0.67,"y":19.0},{"s":"OSG 2.4 [2s O2] (A)","x":0.7,"y":19.3},{"s":"OSG 2.4 [2s O2] (A)","x":0.73,"y":19.2},{"s":"OSG 2.4 [2s O2] (A)","x":0.763,"y":19.3},{"s":"OSG 2.4 [2s O2] (A)","x":0.794,"y":19.3},{"s":"OSG 2.4 [2s O2] (A)","x":0.843,"y":19.6},{"s":"OSG 2.4 [2s O2] (A)","x":0.875,"y":19.5},{"s":"OSG 2.4 [2s O2] (A)","x":0.906,"y":19.5},{"s":"OSG 2.4 [2s O2] (A)","x":0.937,"y":19.5},{"s":"OSG 2.4 [2s O2] (A)","x":0.969,"y":19.6},{"s":"OSG 2.4 [2s O2] (A)","x":1.0,"y":19.4},
{"s":"OSG 2.4 [2s O2] (D)","x":0,"y":6.4},{"s":"OSG 2.4 [2s O2] (D)","x":0.0005,"y":7.3},{"s":"OSG 2.4 [2s O2] (D)","x":0.001,"y":8.7},{"s":"OSG 2.4 [2s O2] (D)","x":0.0015,"y":9.7},{"s":"OSG 2.4 [2s O2] (D)","x":0.002,"y":10.7},{"s":"OSG 2.4 [2s O2] (D)","x":0.0025,"y":11.7},{"s":"OSG 2.4 [2s O2] (D)","x":0.003,"y":12.9},{"s":"OSG 2.4 [2s O2] (D)","x":0.015,"y":15.3},{"s":"OSG 2.4 [2s O2] (D)","x":0.026,"y":17.5},{"s":"OSG 2.4 [2s O2] (D)","x":0.035,"y":15.3},{"s":"OSG 2.4 [2s O2] (D)","x":0.053,"y":17.0},{"s":"OSG 2.4 [2s O2] (D)","x":0.069,"y":16.8},{"s":"OSG 2.4 [2s O2] (D)","x":0.084,"y":17.8},{"s":"OSG 2.4 [2s O2] (D)","x":0.1,"y":18.2},{"s":"OSG 2.4 [2s O2] (D)","x":0.118,"y":18.5},{"s":"OSG 2.4 [2s O2] (D)","x":0.136,"y":18.2},{"s":"OSG 2.4 [2s O2] (D)","x":0.156,"y":18.3},{"s":"OSG 2.4 [2s O2] (D)","x":0.174,"y":17.9},{"s":"OSG 2.4 [2s O2] (D)","x":0.197,"y":17.9},{"s":"OSG 2.4 [2s O2] (D)","x":0.218,"y":18.7},{"s":"OSG 2.4 [2s O2] (D)","x":0.248,"y":18.5},{"s":"OSG 2.4 [2s O2] (D)","x":0.284,"y":18.7},{"s":"OSG 2.4 [2s O2] (D)","x":0.322,"y":19.0},{"s":"OSG 2.4 [2s O2] (D)","x":0.354,"y":18.7},{"s":"OSG 2.4 [2s O2] (D)","x":0.385,"y":18.7},{"s":"OSG 2.4 [2s O2] (D)","x":0.418,"y":18.8},{"s":"OSG 2.4 [2s O2] (D)","x":0.454,"y":18.8},{"s":"OSG 2.4 [2s O2] (D)","x":0.501,"y":18.6},{"s":"OSG 2.4 [2s O2] (D)","x":0.54,"y":18.8},{"s":"OSG 2.4 [2s O2] (D)","x":0.588,"y":19.0},{"s":"OSG 2.4 [2s O2] (D)","x":0.636,"y":19.1},{"s":"OSG 2.4 [2s O2] (D)","x":0.694,"y":19.3},{"s":"OSG 2.4 [2s O2] (D)","x":0.745,"y":19.4},{"s":"OSG 2.4 [2s O2] (D)","x":0.803,"y":19.3},{"s":"OSG 2.4 [2s O2] (D)","x":0.848,"y":19.3},{"s":"OSG 2.4 [2s O2] (D)","x":0.897,"y":19.2},{"s":"OSG 2.4 [2s O2] (D)","x":0.933,"y":19.2},{"s":"OSG 2.4 [2s O2] (D)","x":0.973,"y":19.3},{"s":"OSG 2.4 [2s O2] (D)","x":1.0,"y":19.5},
{"s":"OSG 2.4 [5s O2] (A)","x":0,"y":0.1},{"s":"OSG 2.4 [5s O2] (A)","x":0.005,"y":0.3},{"s":"OSG 2.4 [5s O2] (A)","x":0.015,"y":0.4},{"s":"OSG 2.4 [5s O2] (A)","x":0.03,"y":0.2},{"s":"OSG 2.4 [5s O2] (A)","x":0.05,"y":0.2},{"s":"OSG 2.4 [5s O2] (A)","x":0.075,"y":0.2},{"s":"OSG 2.4 [5s O2] (A)","x":0.1,"y":0.1},{"s":"OSG 2.4 [5s O2] (A)","x":0.12,"y":0.2},{"s":"OSG 2.4 [5s O2] (A)","x":0.15,"y":0.3},{"s":"OSG 2.4 [5s O2] (A)","x":0.175,"y":0.2},{"s":"OSG 2.4 [5s O2] (A)","x":0.2,"y":0.3},{"s":"OSG 2.4 [5s O2] (A)","x":0.23,"y":0.2},{"s":"OSG 2.4 [5s O2] (A)","x":0.27,"y":0.3},{"s":"OSG 2.4 [5s O2] (A)","x":0.3,"y":0.3},{"s":"OSG 2.4 [5s O2] (A)","x":0.33,"y":0.2},{"s":"OSG 2.4 [5s O2] (A)","x":0.36,"y":0.3},{"s":"OSG 2.4 [5s O2] (A)","x":0.387,"y":0.66},{"s":"OSG 2.4 [5s O2] (A)","x":0.42,"y":0.7},{"s":"OSG 2.4 [5s O2] (A)","x":0.454,"y":0.84},{"s":"OSG 2.4 [5s O2] (A)","x":0.483,"y":1.14},{"s":"OSG 2.4 [5s O2] (A)","x":0.514,"y":1.24},{"s":"OSG 2.4 [5s O2] (A)","x":0.548,"y":1.44},{"s":"OSG 2.4 [5s O2] (A)","x":0.575,"y":1.7},{"s":"OSG 2.4 [5s O2] (A)","x":0.604,"y":2.1},{"s":"OSG 2.4 [5s O2] (A)","x":0.636,"y":2.55},{"s":"OSG 2.4 [5s O2] (A)","x":0.664,"y":3.1},{"s":"OSG 2.4 [5s O2] (A)","x":0.72,"y":5.5},{"s":"OSG 2.4 [5s O2] (A)","x":0.78,"y":9.5},{"s":"OSG 2.4 [5s O2] (A)","x":0.83,"y":13.5},{"s":"OSG 2.4 [5s O2] (A)","x":0.855,"y":16.3},{"s":"OSG 2.4 [5s O2] (A)","x":0.868,"y":18.0},{"s":"OSG 2.4 [5s O2] (A)","x":0.895,"y":20.6},{"s":"OSG 2.4 [5s O2] (A)","x":0.924,"y":20.7},{"s":"OSG 2.4 [5s O2] (A)","x":0.951,"y":21.8},{"s":"OSG 2.4 [5s O2] (A)","x":0.978,"y":21.0},{"s":"OSG 2.4 [5s O2] (A)","x":1.0,"y":20.4},
{"s":"OSG 2.4 [5s O2] (D)","x":0,"y":18.5},{"s":"OSG 2.4 [5s O2] (D)","x":0.003,"y":18.8},{"s":"OSG 2.4 [5s O2] (D)","x":0.006,"y":19.1},{"s":"OSG 2.4 [5s O2] (D)","x":0.02,"y":19.4},{"s":"OSG 2.4 [5s O2] (D)","x":0.04,"y":19.6},{"s":"OSG 2.4 [5s O2] (D)","x":0.055,"y":19.4},{"s":"OSG 2.4 [5s O2] (D)","x":0.07,"y":19.7},{"s":"OSG 2.4 [5s O2] (D)","x":0.085,"y":19.1},{"s":"OSG 2.4 [5s O2] (D)","x":0.1,"y":19.4},{"s":"OSG 2.4 [5s O2] (D)","x":0.12,"y":19.8},{"s":"OSG 2.4 [5s O2] (D)","x":0.14,"y":19.6},{"s":"OSG 2.4 [5s O2] (D)","x":0.16,"y":19.8},{"s":"OSG 2.4 [5s O2] (D)","x":0.18,"y":20.0},{"s":"OSG 2.4 [5s O2] (D)","x":0.2,"y":19.5},{"s":"OSG 2.4 [5s O2] (D)","x":0.22,"y":19.7},{"s":"OSG 2.4 [5s O2] (D)","x":0.27,"y":19.9},{"s":"OSG 2.4 [5s O2] (D)","x":0.31,"y":20.0},{"s":"OSG 2.4 [5s O2] (D)","x":0.35,"y":20.1},{"s":"OSG 2.4 [5s O2] (D)","x":0.39,"y":19.9},{"s":"OSG 2.4 [5s O2] (D)","x":0.42,"y":19.9},{"s":"OSG 2.4 [5s O2] (D)","x":0.45,"y":19.8},{"s":"OSG 2.4 [5s O2] (D)","x":0.49,"y":20.1},{"s":"OSG 2.4 [5s O2] (D)","x":0.53,"y":20.3},{"s":"OSG 2.4 [5s O2] (D)","x":0.58,"y":20.4},{"s":"OSG 2.4 [5s O2] (D)","x":0.61,"y":20.8},{"s":"OSG 2.4 [5s O2] (D)","x":0.65,"y":20.5},{"s":"OSG 2.4 [5s O2] (D)","x":0.7,"y":20.9},{"s":"OSG 2.4 [5s O2] (D)","x":0.75,"y":20.6},{"s":"OSG 2.4 [5s O2] (D)","x":0.8,"y":20.3},{"s":"OSG 2.4 [5s O2] (D)","x":0.85,"y":20.2},{"s":"OSG 2.4 [5s O2] (D)","x":0.9,"y":20.3},{"s":"OSG 2.4 [5s O2] (D)","x":0.95,"y":20.4},{"s":"OSG 2.4 [5s O2] (D)","x":1.0,"y":20.5},
{"s":"OSG 2.4 [10s O2] (A)","x":0,"y":0.1},{"s":"OSG 2.4 [10s O2] (A)","x":0.02,"y":0.1},{"s":"OSG 2.4 [10s O2] (A)","x":0.05,"y":0.2},{"s":"OSG 2.4 [10s O2] (A)","x":0.08,"y":0.2},{"s":"OSG 2.4 [10s O2] (A)","x":0.1,"y":0.0},{"s":"OSG 2.4 [10s O2] (A)","x":0.13,"y":0.2},{"s":"OSG 2.4 [10s O2] (A)","x":0.16,"y":0.2},{"s":"OSG 2.4 [10s O2] (A)","x":0.19,"y":0.2},{"s":"OSG 2.4 [10s O2] (A)","x":0.22,"y":0.3},{"s":"OSG 2.4 [10s O2] (A)","x":0.25,"y":0.2},{"s":"OSG 2.4 [10s O2] (A)","x":0.28,"y":0.3},{"s":"OSG 2.4 [10s O2] (A)","x":0.31,"y":0.2},{"s":"OSG 2.4 [10s O2] (A)","x":0.34,"y":0.3},{"s":"OSG 2.4 [10s O2] (A)","x":0.37,"y":0.3},{"s":"OSG 2.4 [10s O2] (A)","x":0.4,"y":0.2},{"s":"OSG 2.4 [10s O2] (A)","x":0.43,"y":0.2},{"s":"OSG 2.4 [10s O2] (A)","x":0.46,"y":0.2},{"s":"OSG 2.4 [10s O2] (A)","x":0.49,"y":0.3},{"s":"OSG 2.4 [10s O2] (A)","x":0.52,"y":0.2},{"s":"OSG 2.4 [10s O2] (A)","x":0.55,"y":0.0},{"s":"OSG 2.4 [10s O2] (A)","x":0.58,"y":0.2},{"s":"OSG 2.4 [10s O2] (A)","x":0.6,"y":0.6},{"s":"OSG 2.4 [10s O2] (A)","x":0.63,"y":0.4},{"s":"OSG 2.4 [10s O2] (A)","x":0.66,"y":0.4},{"s":"OSG 2.4 [10s O2] (A)","x":0.7,"y":0.4},{"s":"OSG 2.4 [10s O2] (A)","x":0.72,"y":0.2},{"s":"OSG 2.4 [10s O2] (A)","x":0.75,"y":0.4},{"s":"OSG 2.4 [10s O2] (A)","x":0.78,"y":0.5},{"s":"OSG 2.4 [10s O2] (A)","x":0.81,"y":0.4},{"s":"OSG 2.4 [10s O2] (A)","x":0.84,"y":0.5},{"s":"OSG 2.4 [10s O2] (A)","x":0.87,"y":0.5},{"s":"OSG 2.4 [10s O2] (A)","x":0.9,"y":0.6},{"s":"OSG 2.4 [10s O2] (A)","x":0.93,"y":0.6},{"s":"OSG 2.4 [10s O2] (A)","x":0.96,"y":0.7},{"s":"OSG 2.4 [10s O2] (A)","x":0.98,"y":0.8},{"s":"OSG 2.4 [10s O2] (A)","x":1.0,"y":0.7},
{"s":"OSG 2.4 [10s O2] (D)","x":0,"y":1.8},{"s":"OSG 2.4 [10s O2] (D)","x":0.003,"y":2.0},{"s":"OSG 2.4 [10s O2] (D)","x":0.006,"y":1.6},{"s":"OSG 2.4 [10s O2] (D)","x":0.02,"y":1.5},{"s":"OSG 2.4 [10s O2] (D)","x":0.04,"y":1.4},{"s":"OSG 2.4 [10s O2] (D)","x":0.06,"y":1.4},{"s":"OSG 2.4 [10s O2] (D)","x":0.08,"y":1.4},{"s":"OSG 2.4 [10s O2] (D)","x":0.1,"y":1.3},{"s":"OSG 2.4 [10s O2] (D)","x":0.12,"y":1.3},{"s":"OSG 2.4 [10s O2] (D)","x":0.14,"y":1.2},{"s":"OSG 2.4 [10s O2] (D)","x":0.17,"y":1.2},{"s":"OSG 2.4 [10s O2] (D)","x":0.2,"y":1.1},{"s":"OSG 2.4 [10s O2] (D)","x":0.24,"y":1.1},{"s":"OSG 2.4 [10s O2] (D)","x":0.28,"y":1.0},{"s":"OSG 2.4 [10s O2] (D)","x":0.33,"y":1.0},{"s":"OSG 2.4 [10s O2] (D)","x":0.37,"y":1.0},{"s":"OSG 2.4 [10s O2] (D)","x":0.4,"y":0.9},{"s":"OSG 2.4 [10s O2] (D)","x":0.43,"y":0.9},{"s":"OSG 2.4 [10s O2] (D)","x":0.45,"y":1.0},{"s":"OSG 2.4 [10s O2] (D)","x":0.5,"y":0.9},{"s":"OSG 2.4 [10s O2] (D)","x":0.53,"y":0.9},{"s":"OSG 2.4 [10s O2] (D)","x":0.6,"y":0.9},{"s":"OSG 2.4 [10s O2] (D)","x":0.65,"y":0.9},{"s":"OSG 2.4 [10s O2] (D)","x":0.7,"y":0.9},{"s":"OSG 2.4 [10s O2] (D)","x":0.75,"y":0.8},{"s":"OSG 2.4 [10s O2] (D)","x":0.8,"y":0.8},{"s":"OSG 2.4 [10s O2] (D)","x":0.85,"y":0.8},{"s":"OSG 2.4 [10s O2] (D)","x":0.9,"y":0.8},{"s":"OSG 2.4 [10s O2] (D)","x":0.95,"y":0.8},{"s":"OSG 2.4 [10s O2] (D)","x":1.0,"y":1.1}
],
"br": [
{"s":"OSG 2.2 [90s O2] (A)","x":0,"y":0.1},{"s":"OSG 2.2 [90s O2] (A)","x":0.02,"y":0.1},{"s":"OSG 2.2 [90s O2] (A)","x":0.04,"y":0.1},{"s":"OSG 2.2 [90s O2] (A)","x":0.06,"y":0.1},{"s":"OSG 2.2 [90s O2] (A)","x":0.08,"y":0.1},{"s":"OSG 2.2 [90s O2] (A)","x":0.1,"y":0.1},{"s":"OSG 2.2 [90s O2] (A)","x":0.12,"y":0.1},{"s":"OSG 2.2 [90s O2] (A)","x":0.14,"y":0.15},{"s":"OSG 2.2 [90s O2] (A)","x":0.16,"y":0.2},{"s":"OSG 2.2 [90s O2] (A)","x":0.18,"y":0.4},{"s":"OSG 2.2 [90s O2] (A)","x":0.2,"y":0.67},{"s":"OSG 2.2 [90s O2] (A)","x":0.24,"y":0.96},{"s":"OSG 2.2 [90s O2] (A)","x":0.272,"y":1.5},{"s":"OSG 2.2 [90s O2] (A)","x":0.306,"y":1.7},{"s":"OSG 2.2 [90s O2] (A)","x":0.334,"y":2.5},{"s":"OSG 2.2 [90s O2] (A)","x":0.367,"y":2.7},{"s":"OSG 2.2 [90s O2] (A)","x":0.397,"y":2.8},{"s":"OSG 2.2 [90s O2] (A)","x":0.427,"y":2.5},{"s":"OSG 2.2 [90s O2] (A)","x":0.459,"y":2.2},{"s":"OSG 2.2 [90s O2] (A)","x":0.489,"y":2.1},{"s":"OSG 2.2 [90s O2] (A)","x":0.522,"y":1.75},{"s":"OSG 2.2 [90s O2] (A)","x":0.55,"y":2.0},{"s":"OSG 2.2 [90s O2] (A)","x":0.58,"y":2.0},{"s":"OSG 2.2 [90s O2] (A)","x":0.609,"y":2.4},{"s":"OSG 2.2 [90s O2] (A)","x":0.639,"y":2.5},{"s":"OSG 2.2 [90s O2] (A)","x":0.671,"y":2.7},{"s":"OSG 2.2 [90s O2] (A)","x":0.699,"y":3.1},{"s":"OSG 2.2 [90s O2] (A)","x":0.728,"y":3.9},{"s":"OSG 2.2 [90s O2] (A)","x":0.756,"y":4.2},{"s":"OSG 2.2 [90s O2] (A)","x":0.787,"y":4.5},{"s":"OSG 2.2 [90s O2] (A)","x":0.816,"y":5.3},{"s":"OSG 2.2 [90s O2] (A)","x":0.844,"y":6.0},{"s":"OSG 2.2 [90s O2] (A)","x":0.873,"y":6.8},{"s":"OSG 2.2 [90s O2] (A)","x":0.898,"y":8.0},{"s":"OSG 2.2 [90s O2] (A)","x":0.927,"y":8.5},{"s":"OSG 2.2 [90s O2] (A)","x":0.953,"y":9.7},{"s":"OSG 2.2 [90s O2] (A)","x":0.979,"y":10.7},{"s":"OSG 2.2 [90s O2] (A)","x":1.0,"y":11.45},
{"s":"OSG 2.2 [90s O2] (D)","x":0,"y":19.6},{"s":"OSG 2.2 [90s O2] (D)","x":0.003,"y":19.4},{"s":"OSG 2.2 [90s O2] (D)","x":0.006,"y":19.8},{"s":"OSG 2.2 [90s O2] (D)","x":0.021,"y":19.3},{"s":"OSG 2.2 [90s O2] (D)","x":0.045,"y":19.2},{"s":"OSG 2.2 [90s O2] (D)","x":0.073,"y":18.9},{"s":"OSG 2.2 [90s O2] (D)","x":0.095,"y":18.65},{"s":"OSG 2.2 [90s O2] (D)","x":0.116,"y":18.3},{"s":"OSG 2.2 [90s O2] (D)","x":0.133,"y":18.2},{"s":"OSG 2.2 [90s O2] (D)","x":0.156,"y":18.1},{"s":"OSG 2.2 [90s O2] (D)","x":0.177,"y":17.9},{"s":"OSG 2.2 [90s O2] (D)","x":0.2,"y":17.8},{"s":"OSG 2.2 [90s O2] (D)","x":0.225,"y":17.3},{"s":"OSG 2.2 [90s O2] (D)","x":0.268,"y":17.0},{"s":"OSG 2.2 [90s O2] (D)","x":0.306,"y":17.1},{"s":"OSG 2.2 [90s O2] (D)","x":0.342,"y":16.6},{"s":"OSG 2.2 [90s O2] (D)","x":0.374,"y":16.3},{"s":"OSG 2.2 [90s O2] (D)","x":0.407,"y":16.3},{"s":"OSG 2.2 [90s O2] (D)","x":0.445,"y":16.1},{"s":"OSG 2.2 [90s O2] (D)","x":0.484,"y":15.4},{"s":"OSG 2.2 [90s O2] (D)","x":0.528,"y":15.2},{"s":"OSG 2.2 [90s O2] (D)","x":0.578,"y":15.0},{"s":"OSG 2.2 [90s O2] (D)","x":0.64,"y":14.7},{"s":"OSG 2.2 [90s O2] (D)","x":0.699,"y":14.1},{"s":"OSG 2.2 [90s O2] (D)","x":0.754,"y":13.6},{"s":"OSG 2.2 [90s O2] (D)","x":0.8,"y":13.5},{"s":"OSG 2.2 [90s O2] (D)","x":0.846,"y":13.3},{"s":"OSG 2.2 [90s O2] (D)","x":0.896,"y":12.7},{"s":"OSG 2.2 [90s O2] (D)","x":0.943,"y":12.4},{"s":"OSG 2.2 [90s O2] (D)","x":0.998,"y":12.2},{"s":"OSG 2.2 [90s O2] (D)","x":1.0,"y":11.9},
{"s":"OSG 2.2 [120s O2] (A)","x":0,"y":0.0},{"s":"OSG 2.2 [120s O2] (A)","x":0.01,"y":0.05},{"s":"OSG 2.2 [120s O2] (A)","x":0.02,"y":0.05},{"s":"OSG 2.2 [120s O2] (A)","x":0.04,"y":0.05},{"s":"OSG 2.2 [120s O2] (A)","x":0.06,"y":0.05},{"s":"OSG 2.2 [120s O2] (A)","x":0.08,"y":0.05},{"s":"OSG 2.2 [120s O2] (A)","x":0.1,"y":0.05},{"s":"OSG 2.2 [120s O2] (A)","x":0.12,"y":0.0},{"s":"OSG 2.2 [120s O2] (A)","x":0.14,"y":0.05},{"s":"OSG 2.2 [120s O2] (A)","x":0.16,"y":0.1},{"s":"OSG 2.2 [120s O2] (A)","x":0.18,"y":0.1},{"s":"OSG 2.2 [120s O2] (A)","x":0.2,"y":0.05},{"s":"OSG 2.2 [120s O2] (A)","x":0.23,"y":0.2},{"s":"OSG 2.2 [120s O2] (A)","x":0.27,"y":0.15},{"s":"OSG 2.2 [120s O2] (A)","x":0.29,"y":0.25},{"s":"OSG 2.2 [120s O2] (A)","x":0.32,"y":0.2},{"s":"OSG 2.2 [120s O2] (A)","x":0.35,"y":0.3},{"s":"OSG 2.2 [120s O2] (A)","x":0.38,"y":0.3},{"s":"OSG 2.2 [120s O2] (A)","x":0.41,"y":0.4},{"s":"OSG 2.2 [120s O2] (A)","x":0.44,"y":0.5},{"s":"OSG 2.2 [120s O2] (A)","x":0.47,"y":0.6},{"s":"OSG 2.2 [120s O2] (A)","x":0.5,"y":0.65},{"s":"OSG 2.2 [120s O2] (A)","x":0.533,"y":0.6},{"s":"OSG 2.2 [120s O2] (A)","x":0.562,"y":0.8},{"s":"OSG 2.2 [120s O2] (A)","x":0.59,"y":0.96},{"s":"OSG 2.2 [120s O2] (A)","x":0.62,"y":1.0},{"s":"OSG 2.2 [120s O2] (A)","x":0.649,"y":1.2},{"s":"OSG 2.2 [120s O2] (A)","x":0.68,"y":1.4},{"s":"OSG 2.2 [120s O2] (A)","x":0.709,"y":1.5},{"s":"OSG 2.2 [120s O2] (A)","x":0.737,"y":1.6},{"s":"OSG 2.2 [120s O2] (A)","x":0.761,"y":1.8},{"s":"OSG 2.2 [120s O2] (A)","x":0.789,"y":2.0},{"s":"OSG 2.2 [120s O2] (A)","x":0.818,"y":2.1},{"s":"OSG 2.2 [120s O2] (A)","x":0.846,"y":2.3},{"s":"OSG 2.2 [120s O2] (A)","x":0.873,"y":2.6},{"s":"OSG 2.2 [120s O2] (A)","x":0.901,"y":2.7},{"s":"OSG 2.2 [120s O2] (A)","x":0.93,"y":2.9},{"s":"OSG 2.2 [120s O2] (A)","x":0.951,"y":3.35},{"s":"OSG 2.2 [120s O2] (A)","x":0.977,"y":3.6},
{"s":"OSG 2.2 [120s O2] (D)","x":0,"y":5.9},{"s":"OSG 2.2 [120s O2] (D)","x":0.004,"y":5.7},{"s":"OSG 2.2 [120s O2] (D)","x":0.015,"y":5.6},{"s":"OSG 2.2 [120s O2] (D)","x":0.035,"y":5.55},{"s":"OSG 2.2 [120s O2] (D)","x":0.06,"y":5.5},{"s":"OSG 2.2 [120s O2] (D)","x":0.085,"y":5.45},{"s":"OSG 2.2 [120s O2] (D)","x":0.11,"y":5.4},{"s":"OSG 2.2 [120s O2] (D)","x":0.135,"y":5.35},{"s":"OSG 2.2 [120s O2] (D)","x":0.155,"y":5.3},{"s":"OSG 2.2 [120s O2] (D)","x":0.18,"y":5.25},{"s":"OSG 2.2 [120s O2] (D)","x":0.2,"y":5.2},{"s":"OSG 2.2 [120s O2] (D)","x":0.268,"y":5.25},{"s":"OSG 2.2 [120s O2] (D)","x":0.304,"y":5.0},{"s":"OSG 2.2 [120s O2] (D)","x":0.336,"y":4.95},{"s":"OSG 2.2 [120s O2] (D)","x":0.369,"y":4.9},{"s":"OSG 2.2 [120s O2] (D)","x":0.402,"y":4.85},{"s":"OSG 2.2 [120s O2] (D)","x":0.445,"y":4.85},{"s":"OSG 2.2 [120s O2] (D)","x":0.484,"y":4.75},{"s":"OSG 2.2 [120s O2] (D)","x":0.522,"y":4.5},{"s":"OSG 2.2 [120s O2] (D)","x":0.564,"y":4.6},{"s":"OSG 2.2 [120s O2] (D)","x":0.6,"y":4.55},{"s":"OSG 2.2 [120s O2] (D)","x":0.649,"y":4.4},{"s":"OSG 2.2 [120s O2] (D)","x":0.692,"y":4.4},{"s":"OSG 2.2 [120s O2] (D)","x":0.735,"y":4.2},{"s":"OSG 2.2 [120s O2] (D)","x":0.775,"y":4.2},{"s":"OSG 2.2 [120s O2] (D)","x":0.818,"y":4.1},{"s":"OSG 2.2 [120s O2] (D)","x":0.849,"y":3.9},{"s":"OSG 2.2 [120s O2] (D)","x":0.896,"y":4.0},{"s":"OSG 2.2 [120s O2] (D)","x":0.946,"y":4.0},{"s":"OSG 2.2 [120s O2] (D)","x":1.0,"y":4.1}
]
},
"columns": 2,
"bounds": "flush",
"spacing": {"row": 140, "column": 127},
"resolve": {"scale": {"color": "independent", "strokeDash": "independent"}, "legend": {"color": "independent", "strokeDash": "independent"}},
"concat": [
 {
  "title": {"text": "C\u0332O\u0332\u2082\u0332 \u0332p\u0332l\u0332a\u0332s\u0332m\u0332a\u0332", "font": "Noto Sans", "fontSize": 29.5, "fontWeight": "normal", "color": "#111111", "anchor": "middle", "frame": "group", "dx": 328, "offset": 15},
  "width": 546, "height": 388,
  "encoding": {
   "x": {"field": "x", "type": "quantitative", "scale": {"domain": [0, 1.2], "nice": false, "zero": false}, "axis": {"values": [0, 0.2, 0.4, 0.6, 0.8, 1, 1.2], "format": ".1~f", "title": "Relative Pressure, P/P\u2080", "titlePadding": 11}},
   "y": {"field": "y", "type": "quantitative", "scale": {"domain": [0, 25], "nice": false}, "axis": {"values": [0, 5, 10, 15, 20, 25], "title": "Pore Volume, %", "titlePadding": 9}}
  },
  "layer": [
   {"data": {"name": "p24"}, "mark": {"type": "line", "strokeWidth": 2},
    "encoding": {
     "color": {"field": "s", "type": "nominal", "title": null, "scale": {"domain": ["OSG 2.4 Pristine (A)","OSG 2.4 Pristine (D)","OSG 2.4 [2s CO2] (A)","OSG 2.4 [2s CO2] (D)","OSG 2.4 [5s CO2] (A)","OSG 2.4 [5s CO2] (D)"], "range": ["#3E6FB8","#B5352F","#8DB443","#7043A0","#31A1C3","#ED7D31"]}, "legend": {"orient": "none", "legendX": 285, "legendY": 165, "rowPadding": 8.8, "padding": 5, "symbolOffset": 8, "symbolType": "stroke"}},
     "strokeDash": {"field": "s", "type": "nominal", "title": null, "scale": {"domain": ["OSG 2.4 Pristine (A)","OSG 2.4 Pristine (D)","OSG 2.4 [2s CO2] (A)","OSG 2.4 [2s CO2] (D)","OSG 2.4 [5s CO2] (A)","OSG 2.4 [5s CO2] (D)"], "range": [[8,5],[1,0],[8,5],[1,0],[8,5],[1,0]]}, "legend": {"orient": "none", "legendX": 285, "legendY": 165, "rowPadding": 8.8, "padding": 5, "symbolOffset": 8, "symbolType": "stroke"}}
    }},
   {"data": {"name": "tl"}, "mark": {"type": "line", "strokeWidth": 2},
    "encoding": {
     "color": {"field": "s", "type": "nominal", "title": null, "scale": {"domain": ["OSG 2.4 Pristine (A)","OSG 2.4 Pristine (D)","OSG 2.4 [2s CO2] (A)","OSG 2.4 [2s CO2] (D)","OSG 2.4 [5s CO2] (A)","OSG 2.4 [5s CO2] (D)"], "range": ["#3E6FB8","#B5352F","#8DB443","#7043A0","#31A1C3","#ED7D31"]}, "legend": {"orient": "none", "legendX": 285, "legendY": 165, "rowPadding": 8.8, "padding": 5, "symbolOffset": 8, "symbolType": "stroke"}},
     "strokeDash": {"field": "s", "type": "nominal", "title": null, "scale": {"domain": ["OSG 2.4 Pristine (A)","OSG 2.4 Pristine (D)","OSG 2.4 [2s CO2] (A)","OSG 2.4 [2s CO2] (D)","OSG 2.4 [5s CO2] (A)","OSG 2.4 [5s CO2] (D)"], "range": [[8,5],[1,0],[8,5],[1,0],[8,5],[1,0]]}, "legend": {"orient": "none", "legendX": 285, "legendY": 165, "rowPadding": 8.8, "padding": 5, "symbolOffset": 8, "symbolType": "stroke"}}
    }},
   {"data": {"name": "tl"}, "transform": [{"filter": "indexof(datum.s, '[2s') >= 0"}], "mark": {"type": "point", "shape": "circle", "filled": true, "size": 60, "opacity": 1},
    "encoding": {
     "color": {"field": "s", "type": "nominal", "title": null, "scale": {"domain": ["OSG 2.4 Pristine (A)","OSG 2.4 Pristine (D)","OSG 2.4 [2s CO2] (A)","OSG 2.4 [2s CO2] (D)","OSG 2.4 [5s CO2] (A)","OSG 2.4 [5s CO2] (D)"], "range": ["#3E6FB8","#B5352F","#8DB443","#7043A0","#31A1C3","#ED7D31"]}, "legend": {"orient": "none", "legendX": 285, "legendY": 165, "rowPadding": 8.8, "padding": 5, "symbolOffset": 8, "symbolType": "stroke"}}
    }},
   {"data": {"name": "tl"}, "transform": [{"filter": "indexof(datum.s, '[5s') >= 0"}], "mark": {"type": "point", "shape": "diamond", "filled": false, "fill": "white", "size": 40, "strokeWidth": 1.3, "opacity": 1},
    "encoding": {
     "color": {"field": "s", "type": "nominal", "title": null, "scale": {"domain": ["OSG 2.4 Pristine (A)","OSG 2.4 Pristine (D)","OSG 2.4 [2s CO2] (A)","OSG 2.4 [2s CO2] (D)","OSG 2.4 [5s CO2] (A)","OSG 2.4 [5s CO2] (D)"], "range": ["#3E6FB8","#B5352F","#8DB443","#7043A0","#31A1C3","#ED7D31"]}, "legend": {"orient": "none", "legendX": 285, "legendY": 165, "rowPadding": 8.8, "padding": 5, "symbolOffset": 8, "symbolType": "stroke"}}
    }},
   {"data": {"values": [{"x": 0.446, "x2": 0.587, "y": 23.1}, {"x": 0.452, "x2": 0.591, "y": 19.15}]}, "mark": {"type": "rule", "color": "#F28A30", "strokeWidth": 4}, "encoding": {"x2": {"field": "x2"}}},
   {"data": {"values": [{"x": 0.587, "y": 23.1}]}, "mark": {"type": "point", "shape": "M-1,-1L0,0L-1,1", "filled": false, "color": "#F28A30", "strokeWidth": 4, "size": 300, "opacity": 1}, "encoding": {}},
   {"data": {"values": [{"x": 0.452, "y": 19.15}]}, "mark": {"type": "point", "shape": "M1,-1L0,0L1,1", "filled": false, "color": "#F28A30", "strokeWidth": 4, "size": 300, "opacity": 1}, "encoding": {}},
   {"data": {"values": [{"x": 0.62, "y": 23.5, "t": "Adsorption"}, {"x": 0.624, "y": 18.96, "t": "Desorption"}]}, "mark": {"type": "text", "align": "left", "baseline": "middle", "fontSize": 21, "color": "#1a1a1a"}, "encoding": {"text": {"field": "t"}}}
  ]
 },
 {
  "width": 525, "height": 394,
  "encoding": {
   "x": {"field": "x", "type": "quantitative", "scale": {"domain": [0, 1.2], "nice": false, "zero": false}, "axis": {"values": [0, 0.2, 0.4, 0.6, 0.8, 1, 1.2], "format": ".1f", "title": "Relative Pressure, P/P\u2080", "titlePadding": 13}},
   "y": {"field": "y", "type": "quantitative", "scale": {"domain": [0, 35], "nice": false}, "axis": {"values": [0, 5, 10, 15, 20, 25, 30, 35], "title": "Pore Volume, %", "titlePadding": 27}}
  },
  "layer": [
   {"data": {"name": "p22"}, "mark": {"type": "line", "strokeWidth": 2},
    "encoding": {
     "color": {"field": "s", "type": "nominal", "title": null, "scale": {"domain": ["OSG 2.2 Pristine (A)","OSG 2.2 Pristine (D)","OSG 2.2 [5s CO2] (A)","OSG 2.2 [5s CO2] (D)","OSG 2.2 [60s CO2] (A)","OSG 2.2 [60s CO2] (D)","OSG 2.2 [90s CO2] (A)","OSG 2.2 [90s CO2] (D)"], "range": ["#8DB443","#7043A0","#3E6FB8","#B5352F","#31A1C3","#ED7D31","#8EA8D9","#DD8582"]}, "legend": {"orient": "none", "legendX": 244, "legendY": 139, "rowPadding": 5.6, "padding": 3, "symbolOffset": 10, "symbolType": "stroke"}},
     "strokeDash": {"field": "s", "type": "nominal", "title": null, "scale": {"domain": ["OSG 2.2 Pristine (A)","OSG 2.2 Pristine (D)","OSG 2.2 [5s CO2] (A)","OSG 2.2 [5s CO2] (D)","OSG 2.2 [60s CO2] (A)","OSG 2.2 [60s CO2] (D)","OSG 2.2 [90s CO2] (A)","OSG 2.2 [90s CO2] (D)"], "range": [[8,5],[1,0],[11,6],[1,0],[8,5],[1,0],[8,5],[1,0]]}, "legend": {"orient": "none", "legendX": 244, "legendY": 139, "rowPadding": 5.6, "padding": 3, "symbolOffset": 10, "symbolType": "stroke"}}
    }},
   {"data": {"name": "tr"}, "mark": {"type": "line", "strokeWidth": 2},
    "encoding": {
     "color": {"field": "s", "type": "nominal", "title": null, "scale": {"domain": ["OSG 2.2 Pristine (A)","OSG 2.2 Pristine (D)","OSG 2.2 [5s CO2] (A)","OSG 2.2 [5s CO2] (D)","OSG 2.2 [60s CO2] (A)","OSG 2.2 [60s CO2] (D)","OSG 2.2 [90s CO2] (A)","OSG 2.2 [90s CO2] (D)"], "range": ["#8DB443","#7043A0","#3E6FB8","#B5352F","#31A1C3","#ED7D31","#8EA8D9","#DD8582"]}, "legend": {"orient": "none", "legendX": 244, "legendY": 139, "rowPadding": 5.6, "padding": 3, "symbolOffset": 10, "symbolType": "stroke"}},
     "strokeDash": {"field": "s", "type": "nominal", "title": null, "scale": {"domain": ["OSG 2.2 Pristine (A)","OSG 2.2 Pristine (D)","OSG 2.2 [5s CO2] (A)","OSG 2.2 [5s CO2] (D)","OSG 2.2 [60s CO2] (A)","OSG 2.2 [60s CO2] (D)","OSG 2.2 [90s CO2] (A)","OSG 2.2 [90s CO2] (D)"], "range": [[8,5],[1,0],[11,6],[1,0],[8,5],[1,0],[8,5],[1,0]]}, "legend": {"orient": "none", "legendX": 244, "legendY": 139, "rowPadding": 5.6, "padding": 3, "symbolOffset": 10, "symbolType": "stroke"}}
    }},
   {"data": {"name": "tr"}, "transform": [{"filter": "indexof(datum.s, '[5s') >= 0"}], "mark": {"type": "point", "shape": "diamond", "filled": false, "fill": "white", "size": 45, "strokeWidth": 1.3, "opacity": 1},
    "encoding": {
     "color": {"field": "s", "type": "nominal", "title": null, "scale": {"domain": ["OSG 2.2 Pristine (A)","OSG 2.2 Pristine (D)","OSG 2.2 [5s CO2] (A)","OSG 2.2 [5s CO2] (D)","OSG 2.2 [60s CO2] (A)","OSG 2.2 [60s CO2] (D)","OSG 2.2 [90s CO2] (A)","OSG 2.2 [90s CO2] (D)"], "range": ["#8DB443","#7043A0","#3E6FB8","#B5352F","#31A1C3","#ED7D31","#8EA8D9","#DD8582"]}, "legend": {"orient": "none", "legendX": 244, "legendY": 139, "rowPadding": 5.6, "padding": 3, "symbolOffset": 10, "symbolType": "stroke"}}
    }},
   {"data": {"name": "tr"}, "transform": [{"filter": "indexof(datum.s, '[60s') >= 0"}], "mark": {"type": "point", "shape": "circle", "filled": false, "fill": "white", "size": 55, "strokeWidth": 1.3, "opacity": 1},
    "encoding": {
     "color": {"field": "s", "type": "nominal", "title": null, "scale": {"domain": ["OSG 2.2 Pristine (A)","OSG 2.2 Pristine (D)","OSG 2.2 [5s CO2] (A)","OSG 2.2 [5s CO2] (D)","OSG 2.2 [60s CO2] (A)","OSG 2.2 [60s CO2] (D)","OSG 2.2 [90s CO2] (A)","OSG 2.2 [90s CO2] (D)"], "range": ["#8DB443","#7043A0","#3E6FB8","#B5352F","#31A1C3","#ED7D31","#8EA8D9","#DD8582"]}, "legend": {"orient": "none", "legendX": 244, "legendY": 139, "rowPadding": 5.6, "padding": 3, "symbolOffset": 10, "symbolType": "stroke"}}
    }},
   {"data": {"name": "tr"}, "transform": [{"filter": "indexof(datum.s, '[90s') >= 0"}], "mark": {"type": "point", "shape": "triangle-up", "filled": false, "fill": "white", "size": 40, "strokeWidth": 1.3, "opacity": 1},
    "encoding": {
     "color": {"field": "s", "type": "nominal", "title": null, "scale": {"domain": ["OSG 2.2 Pristine (A)","OSG 2.2 Pristine (D)","OSG 2.2 [5s CO2] (A)","OSG 2.2 [5s CO2] (D)","OSG 2.2 [60s CO2] (A)","OSG 2.2 [60s CO2] (D)","OSG 2.2 [90s CO2] (A)","OSG 2.2 [90s CO2] (D)"], "range": ["#8DB443","#7043A0","#3E6FB8","#B5352F","#31A1C3","#ED7D31","#8EA8D9","#DD8582"]}, "legend": {"orient": "none", "legendX": 244, "legendY": 139, "rowPadding": 5.6, "padding": 3, "symbolOffset": 10, "symbolType": "stroke"}}
    }}
  ]
 },
 {
  "title": {"text": "O\u0332\u2082\u0332 \u0332p\u0332l\u0332a\u0332s\u0332m\u0332a\u0332", "font": "Noto Sans", "fontSize": 29.5, "fontWeight": "normal", "color": "#111111", "anchor": "middle", "frame": "group", "dx": 328, "offset": 17},
  "width": 546, "height": 413,
  "encoding": {
   "x": {"field": "x", "type": "quantitative", "scale": {"domain": [0, 1.2], "nice": false, "zero": false}, "axis": {"values": [0, 0.2, 0.4, 0.6, 0.8, 1, 1.2], "format": ".1~f", "title": "Relative Pressure, P/P\u2080", "titlePadding": 4}},
   "y": {"field": "y", "type": "quantitative", "scale": {"domain": [0, 25], "nice": false}, "axis": {"values": [0, 5, 10, 15, 20, 25], "title": "Pore Volume, %", "titlePadding": 9}}
  },
  "layer": [
   {"data": {"name": "p24"}, "mark": {"type": "line", "strokeWidth": 2},
    "encoding": {
     "color": {"field": "s", "type": "nominal", "title": null, "scale": {"domain": ["OSG 2.4 Pristine (A)","OSG 2.4 Pristine (D)","OSG 2.4 [2s O2] (A)","OSG 2.4 [2s O2] (D)","OSG 2.4 [5s O2] (A)","OSG 2.4 [5s O2] (D)","OSG 2.4 [10s O2] (A)","OSG 2.4 [10s O2] (D)"], "range": ["#3E6FB8","#B5352F","#8DB443","#7043A0","#31A1C3","#ED7D31","#8EA8D9","#DD8582"]}, "legend": {"orient": "none", "legendX": 256, "legendY": 135, "rowPadding": 8.4, "padding": 5, "symbolOffset": 24, "symbolType": "stroke"}},
     "strokeDash": {"field": "s", "type": "nominal", "title": null, "scale": {"domain": ["OSG 2.4 Pristine (A)","OSG 2.4 Pristine (D)","OSG 2.4 [2s O2] (A)","OSG 2.4 [2s O2] (D)","OSG 2.4 [5s O2] (A)","OSG 2.4 [5s O2] (D)","OSG 2.4 [10s O2] (A)","OSG 2.4 [10s O2] (D)"], "range": [[8,5],[1,0],[8,5],[1,0],[8,5],[1,0],[8,5],[1,0]]}, "legend": {"orient": "none", "legendX": 256, "legendY": 135, "rowPadding": 8.4, "padding": 5, "symbolOffset": 24, "symbolType": "stroke"}}
    }},
   {"data": {"name": "bl"}, "mark": {"type": "line", "strokeWidth": 2},
    "encoding": {
     "color": {"field": "s", "type": "nominal", "title": null, "scale": {"domain": ["OSG 2.4 Pristine (A)","OSG 2.4 Pristine (D)","OSG 2.4 [2s O2] (A)","OSG 2.4 [2s O2] (D)","OSG 2.4 [5s O2] (A)","OSG 2.4 [5s O2] (D)","OSG 2.4 [10s O2] (A)","OSG 2.4 [10s O2] (D)"], "range": ["#3E6FB8","#B5352F","#8DB443","#7043A0","#31A1C3","#ED7D31","#8EA8D9","#DD8582"]}, "legend": {"orient": "none", "legendX": 256, "legendY": 135, "rowPadding": 8.4, "padding": 5, "symbolOffset": 24, "symbolType": "stroke"}},
     "strokeDash": {"field": "s", "type": "nominal", "title": null, "scale": {"domain": ["OSG 2.4 Pristine (A)","OSG 2.4 Pristine (D)","OSG 2.4 [2s O2] (A)","OSG 2.4 [2s O2] (D)","OSG 2.4 [5s O2] (A)","OSG 2.4 [5s O2] (D)","OSG 2.4 [10s O2] (A)","OSG 2.4 [10s O2] (D)"], "range": [[8,5],[1,0],[8,5],[1,0],[8,5],[1,0],[8,5],[1,0]]}, "legend": {"orient": "none", "legendX": 256, "legendY": 135, "rowPadding": 8.4, "padding": 5, "symbolOffset": 24, "symbolType": "stroke"}}
    }},
   {"data": {"name": "bl"}, "transform": [{"filter": "indexof(datum.s, '[2s') >= 0"}], "mark": {"type": "point", "shape": "circle", "filled": true, "size": 60, "opacity": 1},
    "encoding": {
     "color": {"field": "s", "type": "nominal", "title": null, "scale": {"domain": ["OSG 2.4 Pristine (A)","OSG 2.4 Pristine (D)","OSG 2.4 [2s O2] (A)","OSG 2.4 [2s O2] (D)","OSG 2.4 [5s O2] (A)","OSG 2.4 [5s O2] (D)","OSG 2.4 [10s O2] (A)","OSG 2.4 [10s O2] (D)"], "range": ["#3E6FB8","#B5352F","#8DB443","#7043A0","#31A1C3","#ED7D31","#8EA8D9","#DD8582"]}, "legend": {"orient": "none", "legendX": 256, "legendY": 135, "rowPadding": 8.4, "padding": 5, "symbolOffset": 24, "symbolType": "stroke"}}
    }},
   {"data": {"name": "bl"}, "transform": [{"filter": "indexof(datum.s, '[5s') >= 0"}], "mark": {"type": "point", "shape": "diamond", "filled": false, "fill": "white", "size": 40, "strokeWidth": 1.3, "opacity": 1},
    "encoding": {
     "color": {"field": "s", "type": "nominal", "title": null, "scale": {"domain": ["OSG 2.4 Pristine (A)","OSG 2.4 Pristine (D)","OSG 2.4 [2s O2] (A)","OSG 2.4 [2s O2] (D)","OSG 2.4 [5s O2] (A)","OSG 2.4 [5s O2] (D)","OSG 2.4 [10s O2] (A)","OSG 2.4 [10s O2] (D)"], "range": ["#3E6FB8","#B5352F","#8DB443","#7043A0","#31A1C3","#ED7D31","#8EA8D9","#DD8582"]}, "legend": {"orient": "none", "legendX": 256, "legendY": 135, "rowPadding": 8.4, "padding": 5, "symbolOffset": 24, "symbolType": "stroke"}}
    }},
   {"data": {"name": "bl"}, "transform": [{"filter": "indexof(datum.s, '[10s') >= 0"}], "mark": {"type": "point", "shape": "triangle-up", "filled": false, "fill": "white", "size": 40, "strokeWidth": 1.3, "opacity": 1},
    "encoding": {
     "color": {"field": "s", "type": "nominal", "title": null, "scale": {"domain": ["OSG 2.4 Pristine (A)","OSG 2.4 Pristine (D)","OSG 2.4 [2s O2] (A)","OSG 2.4 [2s O2] (D)","OSG 2.4 [5s O2] (A)","OSG 2.4 [5s O2] (D)","OSG 2.4 [10s O2] (A)","OSG 2.4 [10s O2] (D)"], "range": ["#3E6FB8","#B5352F","#8DB443","#7043A0","#31A1C3","#ED7D31","#8EA8D9","#DD8582"]}, "legend": {"orient": "none", "legendX": 256, "legendY": 135, "rowPadding": 8.4, "padding": 5, "symbolOffset": 24, "symbolType": "stroke"}}
    }}
  ]
 },
 {
  "width": 524, "height": 402,
  "encoding": {
   "x": {"field": "x", "type": "quantitative", "scale": {"domain": [0, 1.2], "nice": false, "zero": false}, "axis": {"values": [0, 0.2, 0.4, 0.6, 0.8, 1, 1.2], "format": ".1f", "title": "Relative Pressure, P/P\u2080", "titlePadding": 13}},
   "y": {"field": "y", "type": "quantitative", "scale": {"domain": [0, 35], "nice": false}, "axis": {"values": [0, 5, 10, 15, 20, 25, 30, 35], "title": "Pore Volume, %", "titlePadding": 27}}
  },
  "layer": [
   {"data": {"name": "p22"}, "mark": {"type": "line", "strokeWidth": 2},
    "encoding": {
     "color": {"field": "s", "type": "nominal", "title": null, "scale": {"domain": ["OSG 2.2 Pristine (A)","OSG 2.2 Pristine (D)","OSG 2.2 [90s O2] (A)","OSG 2.2 [90s O2] (D)","OSG 2.2 [120s O2] (A)","OSG 2.2 [120s O2] (D)"], "range": ["#8DB443","#7043A0","#3E6FB8","#B5352F","#31A1C3","#ED7D31"]}, "legend": {"orient": "none", "legendX": 267, "legendY": 52, "rowPadding": 11.6, "padding": 6.5, "symbolOffset": 2, "symbolType": "stroke"}},
     "strokeDash": {"field": "s", "type": "nominal", "title": null, "scale": {"domain": ["OSG 2.2 Pristine (A)","OSG 2.2 Pristine (D)","OSG 2.2 [90s O2] (A)","OSG 2.2 [90s O2] (D)","OSG 2.2 [120s O2] (A)","OSG 2.2 [120s O2] (D)"], "range": [[8,5],[1,0],[8,5],[1,0],[8,5],[1,0]]}, "legend": {"orient": "none", "legendX": 267, "legendY": 52, "rowPadding": 11.6, "padding": 6.5, "symbolOffset": 2, "symbolType": "stroke"}}
    }},
   {"data": {"name": "br"}, "mark": {"type": "line", "strokeWidth": 2},
    "encoding": {
     "color": {"field": "s", "type": "nominal", "title": null, "scale": {"domain": ["OSG 2.2 Pristine (A)","OSG 2.2 Pristine (D)","OSG 2.2 [90s O2] (A)","OSG 2.2 [90s O2] (D)","OSG 2.2 [120s O2] (A)","OSG 2.2 [120s O2] (D)"], "range": ["#8DB443","#7043A0","#3E6FB8","#B5352F","#31A1C3","#ED7D31"]}, "legend": {"orient": "none", "legendX": 267, "legendY": 52, "rowPadding": 11.6, "padding": 6.5, "symbolOffset": 2, "symbolType": "stroke"}},
     "strokeDash": {"field": "s", "type": "nominal", "title": null, "scale": {"domain": ["OSG 2.2 Pristine (A)","OSG 2.2 Pristine (D)","OSG 2.2 [90s O2] (A)","OSG 2.2 [90s O2] (D)","OSG 2.2 [120s O2] (A)","OSG 2.2 [120s O2] (D)"], "range": [[8,5],[1,0],[8,5],[1,0],[8,5],[1,0]]}, "legend": {"orient": "none", "legendX": 267, "legendY": 52, "rowPadding": 11.6, "padding": 6.5, "symbolOffset": 2, "symbolType": "stroke"}}
    }},
   {"data": {"name": "br"}, "transform": [{"filter": "indexof(datum.s, '[90s') >= 0"}], "mark": {"type": "point", "shape": "diamond", "filled": false, "fill": "white", "size": 45, "strokeWidth": 1.3, "opacity": 1},
    "encoding": {
     "color": {"field": "s", "type": "nominal", "title": null, "scale": {"domain": ["OSG 2.2 Pristine (A)","OSG 2.2 Pristine (D)","OSG 2.2 [90s O2] (A)","OSG 2.2 [90s O2] (D)","OSG 2.2 [120s O2] (A)","OSG 2.2 [120s O2] (D)"], "range": ["#8DB443","#7043A0","#3E6FB8","#B5352F","#31A1C3","#ED7D31"]}, "legend": {"orient": "none", "legendX": 267, "legendY": 52, "rowPadding": 11.6, "padding": 6.5, "symbolOffset": 2, "symbolType": "stroke"}}
    }},
   {"data": {"name": "br"}, "transform": [{"filter": "indexof(datum.s, '[120s') >= 0"}], "mark": {"type": "point", "shape": "circle", "filled": false, "fill": "white", "size": 55, "strokeWidth": 1.3, "opacity": 1},
    "encoding": {
     "color": {"field": "s", "type": "nominal", "title": null, "scale": {"domain": ["OSG 2.2 Pristine (A)","OSG 2.2 Pristine (D)","OSG 2.2 [90s O2] (A)","OSG 2.2 [90s O2] (D)","OSG 2.2 [120s O2] (A)","OSG 2.2 [120s O2] (D)"], "range": ["#8DB443","#7043A0","#3E6FB8","#B5352F","#31A1C3","#ED7D31"]}, "legend": {"orient": "none", "legendX": 267, "legendY": 52, "rowPadding": 11.6, "padding": 6.5, "symbolOffset": 2, "symbolType": "stroke"}}
    }}
  ]
 }
]
}
